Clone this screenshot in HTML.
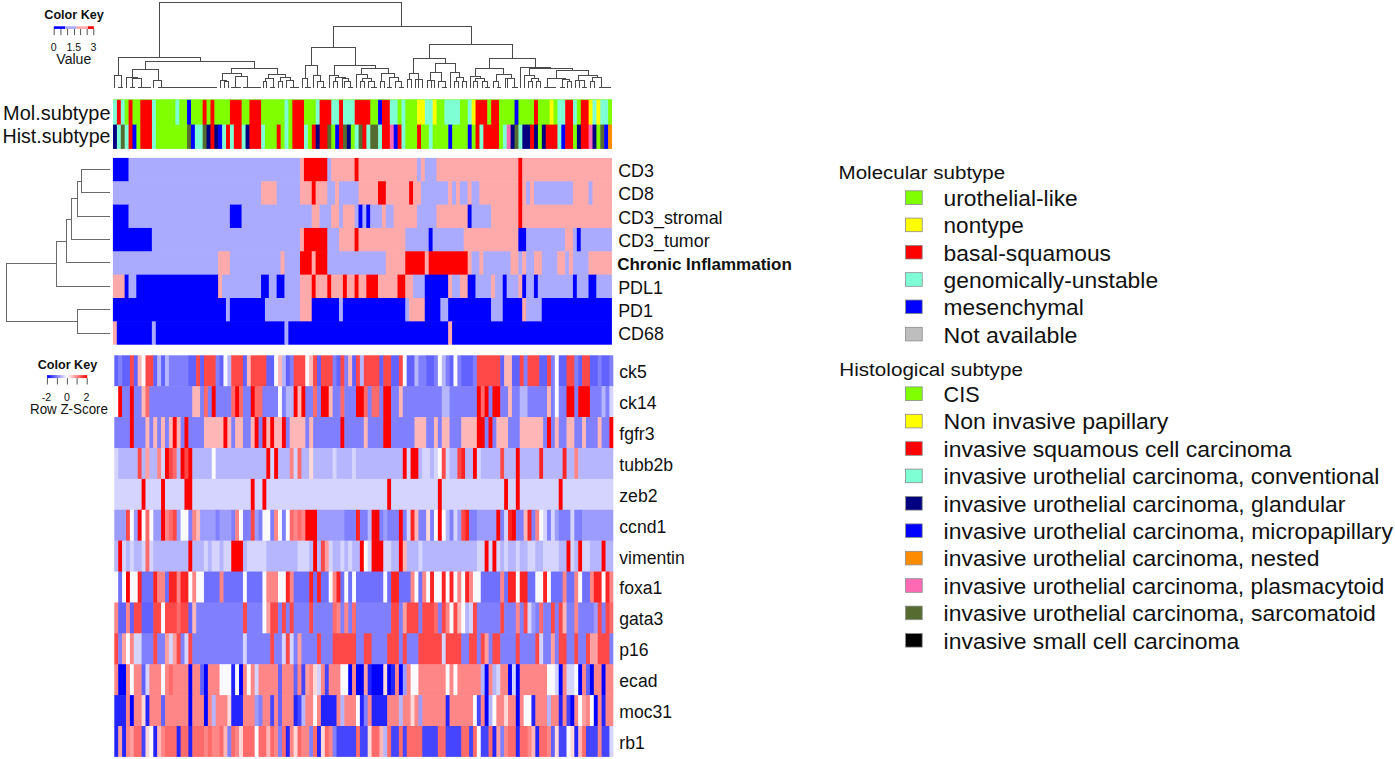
<!DOCTYPE html><html><head><meta charset="utf-8"><title>Heatmap</title><style>html,body{margin:0;padding:0;background:#fff;}body{width:1395px;height:759px;overflow:hidden;font-family:"Liberation Sans",sans-serif;}svg{display:block;}</style></head><body><svg width="1395" height="759" viewBox="0 0 1395 759"><rect width="1395" height="759" fill="#ffffff"/><rect x="113.00" y="99.50" width="4.50" height="25.70" fill="#7fffd4"/><rect x="116.90" y="99.50" width="4.50" height="25.70" fill="#ff0000"/><rect x="120.80" y="99.50" width="4.50" height="25.70" fill="#7fffd4"/><rect x="124.70" y="99.50" width="4.50" height="25.70" fill="#7fff00"/><rect x="128.59" y="99.50" width="4.50" height="25.70" fill="#ff0000"/><rect x="132.49" y="99.50" width="8.40" height="25.70" fill="#7fff00"/><rect x="140.29" y="99.50" width="12.30" height="25.70" fill="#ff0000"/><rect x="151.98" y="99.50" width="4.50" height="25.70" fill="#7fffd4"/><rect x="155.88" y="99.50" width="20.09" height="25.70" fill="#7fff00"/><rect x="175.38" y="99.50" width="4.50" height="25.70" fill="#7fffd4"/><rect x="179.27" y="99.50" width="8.40" height="25.70" fill="#7fff00"/><rect x="187.07" y="99.50" width="4.50" height="25.70" fill="#0000ff"/><rect x="190.97" y="99.50" width="12.30" height="25.70" fill="#7fff00"/><rect x="202.66" y="99.50" width="4.50" height="25.70" fill="#ff0000"/><rect x="206.56" y="99.50" width="4.50" height="25.70" fill="#7fff00"/><rect x="210.46" y="99.50" width="4.50" height="25.70" fill="#ff0000"/><rect x="214.36" y="99.50" width="16.19" height="25.70" fill="#7fff00"/><rect x="229.95" y="99.50" width="12.30" height="25.70" fill="#ff0000"/><rect x="241.65" y="99.50" width="8.40" height="25.70" fill="#7fff00"/><rect x="249.45" y="99.50" width="12.30" height="25.70" fill="#ff0000"/><rect x="261.14" y="99.50" width="23.99" height="25.70" fill="#7fff00"/><rect x="284.53" y="99.50" width="4.50" height="25.70" fill="#7fffd4"/><rect x="288.43" y="99.50" width="4.50" height="25.70" fill="#7fff00"/><rect x="292.33" y="99.50" width="12.30" height="25.70" fill="#ff0000"/><rect x="304.02" y="99.50" width="12.30" height="25.70" fill="#7fff00"/><rect x="315.72" y="99.50" width="4.50" height="25.70" fill="#7fffd4"/><rect x="319.62" y="99.50" width="12.30" height="25.70" fill="#ff0000"/><rect x="331.31" y="99.50" width="8.40" height="25.70" fill="#7fffd4"/><rect x="339.11" y="99.50" width="4.50" height="25.70" fill="#ff0000"/><rect x="343.01" y="99.50" width="12.30" height="25.70" fill="#7fffd4"/><rect x="354.70" y="99.50" width="16.19" height="25.70" fill="#ff0000"/><rect x="370.30" y="99.50" width="8.40" height="25.70" fill="#7fff00"/><rect x="378.09" y="99.50" width="4.50" height="25.70" fill="#0000ff"/><rect x="381.99" y="99.50" width="8.40" height="25.70" fill="#ff0000"/><rect x="389.79" y="99.50" width="8.40" height="25.70" fill="#7fffd4"/><rect x="397.59" y="99.50" width="4.50" height="25.70" fill="#7fff00"/><rect x="401.48" y="99.50" width="4.50" height="25.70" fill="#7fffd4"/><rect x="405.38" y="99.50" width="12.30" height="25.70" fill="#7fff00"/><rect x="417.08" y="99.50" width="8.40" height="25.70" fill="#ffff00"/><rect x="424.88" y="99.50" width="8.40" height="25.70" fill="#7fffd4"/><rect x="432.67" y="99.50" width="4.50" height="25.70" fill="#ffff00"/><rect x="436.57" y="99.50" width="8.40" height="25.70" fill="#7fff00"/><rect x="444.37" y="99.50" width="16.19" height="25.70" fill="#7fffd4"/><rect x="459.96" y="99.50" width="8.40" height="25.70" fill="#7fff00"/><rect x="467.76" y="99.50" width="4.50" height="25.70" fill="#7fffd4"/><rect x="471.66" y="99.50" width="4.50" height="25.70" fill="#ffff00"/><rect x="475.55" y="99.50" width="12.30" height="25.70" fill="#ff0000"/><rect x="487.25" y="99.50" width="4.50" height="25.70" fill="#7fff00"/><rect x="491.15" y="99.50" width="8.40" height="25.70" fill="#ff0000"/><rect x="498.95" y="99.50" width="16.19" height="25.70" fill="#7fff00"/><rect x="514.54" y="99.50" width="4.50" height="25.70" fill="#0000ff"/><rect x="518.44" y="99.50" width="16.19" height="25.70" fill="#7fff00"/><rect x="534.03" y="99.50" width="4.50" height="25.70" fill="#ff0000"/><rect x="537.93" y="99.50" width="12.30" height="25.70" fill="#7fff00"/><rect x="549.62" y="99.50" width="4.50" height="25.70" fill="#ffff00"/><rect x="553.52" y="99.50" width="4.50" height="25.70" fill="#7fff00"/><rect x="557.42" y="99.50" width="8.40" height="25.70" fill="#7fffd4"/><rect x="565.22" y="99.50" width="8.40" height="25.70" fill="#ff0000"/><rect x="573.02" y="99.50" width="4.50" height="25.70" fill="#7fffd4"/><rect x="576.91" y="99.50" width="4.50" height="25.70" fill="#7fff00"/><rect x="580.81" y="99.50" width="8.40" height="25.70" fill="#ff0000"/><rect x="588.61" y="99.50" width="4.50" height="25.70" fill="#ffff00"/><rect x="592.51" y="99.50" width="4.50" height="25.70" fill="#7fffd4"/><rect x="596.41" y="99.50" width="4.50" height="25.70" fill="#ffff00"/><rect x="600.30" y="99.50" width="8.40" height="25.70" fill="#7fffd4"/><rect x="608.10" y="99.50" width="3.90" height="25.70" fill="#7fff00"/><rect x="113.00" y="124.60" width="4.50" height="24.30" fill="#000080"/><rect x="116.90" y="124.60" width="4.50" height="24.30" fill="#7fffd4"/><rect x="120.80" y="124.60" width="4.50" height="24.30" fill="#556b2f"/><rect x="124.70" y="124.60" width="4.50" height="24.30" fill="#7fffd4"/><rect x="128.59" y="124.60" width="4.50" height="24.30" fill="#ff0000"/><rect x="132.49" y="124.60" width="4.50" height="24.30" fill="#0000ff"/><rect x="136.39" y="124.60" width="4.50" height="24.30" fill="#7fff00"/><rect x="140.29" y="124.60" width="12.30" height="24.30" fill="#ff0000"/><rect x="151.98" y="124.60" width="4.50" height="24.30" fill="#7fffd4"/><rect x="155.88" y="124.60" width="31.79" height="24.30" fill="#7fff00"/><rect x="187.07" y="124.60" width="4.50" height="24.30" fill="#556b2f"/><rect x="190.97" y="124.60" width="4.50" height="24.30" fill="#0000ff"/><rect x="194.87" y="124.60" width="8.40" height="24.30" fill="#7fffd4"/><rect x="202.66" y="124.60" width="4.50" height="24.30" fill="#556b2f"/><rect x="206.56" y="124.60" width="4.50" height="24.30" fill="#000080"/><rect x="210.46" y="124.60" width="4.50" height="24.30" fill="#ff0000"/><rect x="214.36" y="124.60" width="4.50" height="24.30" fill="#000080"/><rect x="218.26" y="124.60" width="4.50" height="24.30" fill="#0000ff"/><rect x="222.16" y="124.60" width="4.50" height="24.30" fill="#7fffd4"/><rect x="226.05" y="124.60" width="4.50" height="24.30" fill="#ff0000"/><rect x="229.95" y="124.60" width="4.50" height="24.30" fill="#7fffd4"/><rect x="233.85" y="124.60" width="8.40" height="24.30" fill="#ff0000"/><rect x="241.65" y="124.60" width="4.50" height="24.30" fill="#7fffd4"/><rect x="245.55" y="124.60" width="4.50" height="24.30" fill="#000080"/><rect x="249.45" y="124.60" width="12.30" height="24.30" fill="#ff0000"/><rect x="261.14" y="124.60" width="4.50" height="24.30" fill="#7fffd4"/><rect x="265.04" y="124.60" width="12.30" height="24.30" fill="#7fff00"/><rect x="276.73" y="124.60" width="4.50" height="24.30" fill="#ff0000"/><rect x="280.63" y="124.60" width="4.50" height="24.30" fill="#7fff00"/><rect x="284.53" y="124.60" width="4.50" height="24.30" fill="#7fffd4"/><rect x="288.43" y="124.60" width="4.50" height="24.30" fill="#7fff00"/><rect x="292.33" y="124.60" width="12.30" height="24.30" fill="#ff0000"/><rect x="304.02" y="124.60" width="4.50" height="24.30" fill="#7fffd4"/><rect x="307.92" y="124.60" width="4.50" height="24.30" fill="#7fff00"/><rect x="311.82" y="124.60" width="4.50" height="24.30" fill="#ff0000"/><rect x="315.72" y="124.60" width="4.50" height="24.30" fill="#000080"/><rect x="319.62" y="124.60" width="8.40" height="24.30" fill="#ff0000"/><rect x="327.41" y="124.60" width="4.50" height="24.30" fill="#556b2f"/><rect x="331.31" y="124.60" width="4.50" height="24.30" fill="#7fff00"/><rect x="335.21" y="124.60" width="4.50" height="24.30" fill="#0000ff"/><rect x="339.11" y="124.60" width="4.50" height="24.30" fill="#ff0000"/><rect x="343.01" y="124.60" width="4.50" height="24.30" fill="#556b2f"/><rect x="346.91" y="124.60" width="4.50" height="24.30" fill="#000080"/><rect x="350.80" y="124.60" width="4.50" height="24.30" fill="#7fff00"/><rect x="354.70" y="124.60" width="4.50" height="24.30" fill="#7fffd4"/><rect x="358.60" y="124.60" width="4.50" height="24.30" fill="#556b2f"/><rect x="362.50" y="124.60" width="4.50" height="24.30" fill="#ff0000"/><rect x="366.40" y="124.60" width="4.50" height="24.30" fill="#7fffd4"/><rect x="370.30" y="124.60" width="8.40" height="24.30" fill="#556b2f"/><rect x="378.09" y="124.60" width="4.50" height="24.30" fill="#7fffd4"/><rect x="381.99" y="124.60" width="8.40" height="24.30" fill="#ff0000"/><rect x="389.79" y="124.60" width="4.50" height="24.30" fill="#ff69b4"/><rect x="393.69" y="124.60" width="4.50" height="24.30" fill="#0000ff"/><rect x="397.59" y="124.60" width="4.50" height="24.30" fill="#ff0000"/><rect x="401.48" y="124.60" width="4.50" height="24.30" fill="#7fffd4"/><rect x="405.38" y="124.60" width="12.30" height="24.30" fill="#7fff00"/><rect x="417.08" y="124.60" width="4.50" height="24.30" fill="#ff0000"/><rect x="420.98" y="124.60" width="8.40" height="24.30" fill="#7fff00"/><rect x="428.77" y="124.60" width="4.50" height="24.30" fill="#7fffd4"/><rect x="432.67" y="124.60" width="16.19" height="24.30" fill="#7fff00"/><rect x="448.27" y="124.60" width="4.50" height="24.30" fill="#0000ff"/><rect x="452.16" y="124.60" width="16.19" height="24.30" fill="#7fff00"/><rect x="467.76" y="124.60" width="4.50" height="24.30" fill="#0000ff"/><rect x="471.66" y="124.60" width="4.50" height="24.30" fill="#7fff00"/><rect x="475.55" y="124.60" width="4.50" height="24.30" fill="#ff0000"/><rect x="479.45" y="124.60" width="4.50" height="24.30" fill="#7fffd4"/><rect x="483.35" y="124.60" width="16.19" height="24.30" fill="#ff0000"/><rect x="498.95" y="124.60" width="4.50" height="24.30" fill="#7fff00"/><rect x="502.84" y="124.60" width="4.50" height="24.30" fill="#7fffd4"/><rect x="506.74" y="124.60" width="4.50" height="24.30" fill="#ff69b4"/><rect x="510.64" y="124.60" width="4.50" height="24.30" fill="#000080"/><rect x="514.54" y="124.60" width="4.50" height="24.30" fill="#556b2f"/><rect x="518.44" y="124.60" width="4.50" height="24.30" fill="#7fffd4"/><rect x="522.34" y="124.60" width="8.40" height="24.30" fill="#000080"/><rect x="530.13" y="124.60" width="4.50" height="24.30" fill="#ff0000"/><rect x="534.03" y="124.60" width="4.50" height="24.30" fill="#000080"/><rect x="537.93" y="124.60" width="4.50" height="24.30" fill="#7fff00"/><rect x="541.83" y="124.60" width="4.50" height="24.30" fill="#000080"/><rect x="545.73" y="124.60" width="12.30" height="24.30" fill="#ff0000"/><rect x="557.42" y="124.60" width="4.50" height="24.30" fill="#7fffd4"/><rect x="561.32" y="124.60" width="4.50" height="24.30" fill="#0000ff"/><rect x="565.22" y="124.60" width="8.40" height="24.30" fill="#ff0000"/><rect x="573.02" y="124.60" width="4.50" height="24.30" fill="#7fff00"/><rect x="576.91" y="124.60" width="4.50" height="24.30" fill="#000080"/><rect x="580.81" y="124.60" width="8.40" height="24.30" fill="#ff0000"/><rect x="588.61" y="124.60" width="4.50" height="24.30" fill="#ff69b4"/><rect x="592.51" y="124.60" width="4.50" height="24.30" fill="#000080"/><rect x="596.41" y="124.60" width="4.50" height="24.30" fill="#7fff00"/><rect x="600.30" y="124.60" width="4.50" height="24.30" fill="#556b2f"/><rect x="604.20" y="124.60" width="4.50" height="24.30" fill="#0000ff"/><rect x="608.10" y="124.60" width="3.90" height="24.30" fill="#ff8c00"/><rect x="113.0" y="99.2" width="499.0" height="0.9" fill="#80ff40" opacity="0.8"/><rect x="112.90" y="157.90" width="16.19" height="23.95" fill="#0000ff"/><rect x="128.49" y="157.90" width="172.13" height="23.95" fill="#aaaaff"/><rect x="300.02" y="157.90" width="4.50" height="23.95" fill="#ffaaaa"/><rect x="303.92" y="157.90" width="23.99" height="23.95" fill="#ff0000"/><rect x="327.31" y="157.90" width="4.50" height="23.95" fill="#aaaaff"/><rect x="331.21" y="157.90" width="23.99" height="23.95" fill="#ffaaaa"/><rect x="354.60" y="157.90" width="4.50" height="23.95" fill="#ff0000"/><rect x="358.50" y="157.90" width="59.08" height="23.95" fill="#ffaaaa"/><rect x="416.98" y="157.90" width="4.50" height="23.95" fill="#aaaaff"/><rect x="420.88" y="157.90" width="4.50" height="23.95" fill="#ffaaaa"/><rect x="424.77" y="157.90" width="12.30" height="23.95" fill="#aaaaff"/><rect x="436.47" y="157.90" width="82.47" height="23.95" fill="#ffaaaa"/><rect x="518.34" y="157.90" width="4.50" height="23.95" fill="#ff0000"/><rect x="522.24" y="157.90" width="89.66" height="23.95" fill="#ffaaaa"/><rect x="112.90" y="181.25" width="148.74" height="23.95" fill="#aaaaff"/><rect x="261.04" y="181.25" width="16.19" height="23.95" fill="#ffaaaa"/><rect x="276.63" y="181.25" width="23.99" height="23.95" fill="#aaaaff"/><rect x="300.02" y="181.25" width="12.30" height="23.95" fill="#ffaaaa"/><rect x="311.72" y="181.25" width="4.50" height="23.95" fill="#ff0000"/><rect x="315.62" y="181.25" width="12.30" height="23.95" fill="#ffaaaa"/><rect x="327.31" y="181.25" width="8.40" height="23.95" fill="#aaaaff"/><rect x="335.11" y="181.25" width="4.50" height="23.95" fill="#ffaaaa"/><rect x="339.01" y="181.25" width="20.09" height="23.95" fill="#aaaaff"/><rect x="358.50" y="181.25" width="20.09" height="23.95" fill="#ffaaaa"/><rect x="377.99" y="181.25" width="8.40" height="23.95" fill="#ff0000"/><rect x="385.79" y="181.25" width="23.99" height="23.95" fill="#ffaaaa"/><rect x="409.18" y="181.25" width="4.50" height="23.95" fill="#ff0000"/><rect x="413.08" y="181.25" width="8.40" height="23.95" fill="#ffaaaa"/><rect x="420.88" y="181.25" width="27.89" height="23.95" fill="#aaaaff"/><rect x="448.17" y="181.25" width="4.50" height="23.95" fill="#ffaaaa"/><rect x="452.06" y="181.25" width="4.50" height="23.95" fill="#aaaaff"/><rect x="455.96" y="181.25" width="4.50" height="23.95" fill="#ffaaaa"/><rect x="459.86" y="181.25" width="8.40" height="23.95" fill="#aaaaff"/><rect x="467.66" y="181.25" width="4.50" height="23.95" fill="#ffaaaa"/><rect x="471.56" y="181.25" width="8.40" height="23.95" fill="#aaaaff"/><rect x="479.35" y="181.25" width="39.58" height="23.95" fill="#ffaaaa"/><rect x="518.34" y="181.25" width="4.50" height="23.95" fill="#ff0000"/><rect x="522.24" y="181.25" width="4.50" height="23.95" fill="#ffaaaa"/><rect x="526.13" y="181.25" width="4.50" height="23.95" fill="#aaaaff"/><rect x="530.03" y="181.25" width="4.50" height="23.95" fill="#ffaaaa"/><rect x="533.93" y="181.25" width="39.58" height="23.95" fill="#aaaaff"/><rect x="572.92" y="181.25" width="16.19" height="23.95" fill="#ffaaaa"/><rect x="588.51" y="181.25" width="4.50" height="23.95" fill="#aaaaff"/><rect x="592.41" y="181.25" width="19.49" height="23.95" fill="#ffaaaa"/><rect x="112.90" y="204.60" width="16.19" height="23.95" fill="#0000ff"/><rect x="128.49" y="204.60" width="101.96" height="23.95" fill="#aaaaff"/><rect x="229.85" y="204.60" width="12.30" height="23.95" fill="#0000ff"/><rect x="241.55" y="204.60" width="70.77" height="23.95" fill="#aaaaff"/><rect x="311.72" y="204.60" width="8.40" height="23.95" fill="#ffaaaa"/><rect x="319.52" y="204.60" width="12.30" height="23.95" fill="#aaaaff"/><rect x="331.21" y="204.60" width="8.40" height="23.95" fill="#ffaaaa"/><rect x="339.01" y="204.60" width="4.50" height="23.95" fill="#aaaaff"/><rect x="342.91" y="204.60" width="12.30" height="23.95" fill="#ffaaaa"/><rect x="354.60" y="204.60" width="4.50" height="23.95" fill="#aaaaff"/><rect x="358.50" y="204.60" width="4.50" height="23.95" fill="#0000ff"/><rect x="362.40" y="204.60" width="4.50" height="23.95" fill="#aaaaff"/><rect x="366.30" y="204.60" width="4.50" height="23.95" fill="#0000ff"/><rect x="370.20" y="204.60" width="12.30" height="23.95" fill="#aaaaff"/><rect x="381.89" y="204.60" width="4.50" height="23.95" fill="#ffaaaa"/><rect x="385.79" y="204.60" width="8.40" height="23.95" fill="#aaaaff"/><rect x="393.59" y="204.60" width="23.99" height="23.95" fill="#ffaaaa"/><rect x="416.98" y="204.60" width="20.09" height="23.95" fill="#aaaaff"/><rect x="436.47" y="204.60" width="31.79" height="23.95" fill="#ffaaaa"/><rect x="467.66" y="204.60" width="4.50" height="23.95" fill="#0000ff"/><rect x="471.56" y="204.60" width="20.09" height="23.95" fill="#aaaaff"/><rect x="491.05" y="204.60" width="27.89" height="23.95" fill="#ffaaaa"/><rect x="518.34" y="204.60" width="4.50" height="23.95" fill="#ff0000"/><rect x="522.24" y="204.60" width="89.66" height="23.95" fill="#ffaaaa"/><rect x="112.90" y="227.95" width="39.58" height="23.95" fill="#0000ff"/><rect x="151.88" y="227.95" width="148.74" height="23.95" fill="#aaaaff"/><rect x="300.02" y="227.95" width="4.50" height="23.95" fill="#ffaaaa"/><rect x="303.92" y="227.95" width="23.99" height="23.95" fill="#ff0000"/><rect x="327.31" y="227.95" width="12.30" height="23.95" fill="#aaaaff"/><rect x="339.01" y="227.95" width="16.19" height="23.95" fill="#ffaaaa"/><rect x="354.60" y="227.95" width="4.50" height="23.95" fill="#ff0000"/><rect x="358.50" y="227.95" width="47.38" height="23.95" fill="#ffaaaa"/><rect x="405.28" y="227.95" width="23.99" height="23.95" fill="#aaaaff"/><rect x="428.67" y="227.95" width="4.50" height="23.95" fill="#0000ff"/><rect x="432.57" y="227.95" width="31.79" height="23.95" fill="#aaaaff"/><rect x="463.76" y="227.95" width="55.18" height="23.95" fill="#ffaaaa"/><rect x="518.34" y="227.95" width="8.40" height="23.95" fill="#0000ff"/><rect x="526.13" y="227.95" width="39.58" height="23.95" fill="#aaaaff"/><rect x="565.12" y="227.95" width="8.40" height="23.95" fill="#ffaaaa"/><rect x="572.92" y="227.95" width="4.50" height="23.95" fill="#aaaaff"/><rect x="576.81" y="227.95" width="4.50" height="23.95" fill="#0000ff"/><rect x="580.71" y="227.95" width="31.19" height="23.95" fill="#aaaaff"/><rect x="112.90" y="251.30" width="105.86" height="23.95" fill="#aaaaff"/><rect x="218.16" y="251.30" width="12.30" height="23.95" fill="#ffaaaa"/><rect x="229.85" y="251.30" width="51.28" height="23.95" fill="#aaaaff"/><rect x="280.53" y="251.30" width="4.50" height="23.95" fill="#ffaaaa"/><rect x="284.43" y="251.30" width="16.19" height="23.95" fill="#aaaaff"/><rect x="300.02" y="251.30" width="12.30" height="23.95" fill="#ff0000"/><rect x="311.72" y="251.30" width="4.50" height="23.95" fill="#ffaaaa"/><rect x="315.62" y="251.30" width="12.30" height="23.95" fill="#ff0000"/><rect x="327.31" y="251.30" width="59.08" height="23.95" fill="#aaaaff"/><rect x="385.79" y="251.30" width="20.09" height="23.95" fill="#ffaaaa"/><rect x="405.28" y="251.30" width="20.09" height="23.95" fill="#ff0000"/><rect x="424.77" y="251.30" width="4.50" height="23.95" fill="#ffaaaa"/><rect x="428.67" y="251.30" width="39.58" height="23.95" fill="#ff0000"/><rect x="467.66" y="251.30" width="4.50" height="23.95" fill="#ffaaaa"/><rect x="471.56" y="251.30" width="8.40" height="23.95" fill="#aaaaff"/><rect x="479.35" y="251.30" width="4.50" height="23.95" fill="#ffaaaa"/><rect x="483.25" y="251.30" width="27.89" height="23.95" fill="#aaaaff"/><rect x="510.54" y="251.30" width="8.40" height="23.95" fill="#ffaaaa"/><rect x="518.34" y="251.30" width="4.50" height="23.95" fill="#aaaaff"/><rect x="522.24" y="251.30" width="4.50" height="23.95" fill="#ffaaaa"/><rect x="526.13" y="251.30" width="8.40" height="23.95" fill="#aaaaff"/><rect x="533.93" y="251.30" width="8.40" height="23.95" fill="#ffaaaa"/><rect x="541.73" y="251.30" width="16.19" height="23.95" fill="#aaaaff"/><rect x="557.32" y="251.30" width="8.40" height="23.95" fill="#ffaaaa"/><rect x="565.12" y="251.30" width="4.50" height="23.95" fill="#aaaaff"/><rect x="569.02" y="251.30" width="4.50" height="23.95" fill="#ffaaaa"/><rect x="572.92" y="251.30" width="16.19" height="23.95" fill="#aaaaff"/><rect x="588.51" y="251.30" width="23.39" height="23.95" fill="#ffaaaa"/><rect x="112.90" y="274.65" width="12.30" height="23.95" fill="#ffaaaa"/><rect x="124.60" y="274.65" width="4.50" height="23.95" fill="#0000ff"/><rect x="128.49" y="274.65" width="8.40" height="23.95" fill="#aaaaff"/><rect x="136.29" y="274.65" width="82.47" height="23.95" fill="#0000ff"/><rect x="218.16" y="274.65" width="4.50" height="23.95" fill="#ffaaaa"/><rect x="222.06" y="274.65" width="39.58" height="23.95" fill="#aaaaff"/><rect x="261.04" y="274.65" width="8.40" height="23.95" fill="#0000ff"/><rect x="268.84" y="274.65" width="8.40" height="23.95" fill="#aaaaff"/><rect x="276.63" y="274.65" width="8.40" height="23.95" fill="#0000ff"/><rect x="284.43" y="274.65" width="16.19" height="23.95" fill="#aaaaff"/><rect x="300.02" y="274.65" width="12.30" height="23.95" fill="#ffaaaa"/><rect x="311.72" y="274.65" width="4.50" height="23.95" fill="#ff0000"/><rect x="315.62" y="274.65" width="12.30" height="23.95" fill="#ffaaaa"/><rect x="327.31" y="274.65" width="4.50" height="23.95" fill="#ff0000"/><rect x="331.21" y="274.65" width="12.30" height="23.95" fill="#ffaaaa"/><rect x="342.91" y="274.65" width="4.50" height="23.95" fill="#ff0000"/><rect x="346.81" y="274.65" width="8.40" height="23.95" fill="#ffaaaa"/><rect x="354.60" y="274.65" width="4.50" height="23.95" fill="#ff0000"/><rect x="358.50" y="274.65" width="8.40" height="23.95" fill="#ffaaaa"/><rect x="366.30" y="274.65" width="12.30" height="23.95" fill="#ff0000"/><rect x="377.99" y="274.65" width="20.09" height="23.95" fill="#ffaaaa"/><rect x="397.49" y="274.65" width="8.40" height="23.95" fill="#ff0000"/><rect x="405.28" y="274.65" width="8.40" height="23.95" fill="#ffaaaa"/><rect x="413.08" y="274.65" width="12.30" height="23.95" fill="#aaaaff"/><rect x="424.77" y="274.65" width="23.99" height="23.95" fill="#0000ff"/><rect x="448.17" y="274.65" width="4.50" height="23.95" fill="#ffaaaa"/><rect x="452.06" y="274.65" width="8.40" height="23.95" fill="#aaaaff"/><rect x="459.86" y="274.65" width="8.40" height="23.95" fill="#ffaaaa"/><rect x="467.66" y="274.65" width="8.40" height="23.95" fill="#0000ff"/><rect x="475.45" y="274.65" width="16.19" height="23.95" fill="#aaaaff"/><rect x="491.05" y="274.65" width="4.50" height="23.95" fill="#ffaaaa"/><rect x="494.95" y="274.65" width="8.40" height="23.95" fill="#aaaaff"/><rect x="502.74" y="274.65" width="4.50" height="23.95" fill="#0000ff"/><rect x="506.64" y="274.65" width="12.30" height="23.95" fill="#aaaaff"/><rect x="518.34" y="274.65" width="4.50" height="23.95" fill="#ffaaaa"/><rect x="522.24" y="274.65" width="4.50" height="23.95" fill="#0000ff"/><rect x="526.13" y="274.65" width="8.40" height="23.95" fill="#aaaaff"/><rect x="533.93" y="274.65" width="4.50" height="23.95" fill="#0000ff"/><rect x="537.83" y="274.65" width="35.69" height="23.95" fill="#aaaaff"/><rect x="572.92" y="274.65" width="4.50" height="23.95" fill="#0000ff"/><rect x="576.81" y="274.65" width="12.30" height="23.95" fill="#aaaaff"/><rect x="588.51" y="274.65" width="8.40" height="23.95" fill="#0000ff"/><rect x="596.31" y="274.65" width="15.59" height="23.95" fill="#aaaaff"/><rect x="112.90" y="298.00" width="113.65" height="23.95" fill="#0000ff"/><rect x="225.95" y="298.00" width="4.50" height="23.95" fill="#aaaaff"/><rect x="229.85" y="298.00" width="35.69" height="23.95" fill="#0000ff"/><rect x="264.94" y="298.00" width="35.69" height="23.95" fill="#aaaaff"/><rect x="300.02" y="298.00" width="12.30" height="23.95" fill="#ffaaaa"/><rect x="311.72" y="298.00" width="27.89" height="23.95" fill="#0000ff"/><rect x="339.01" y="298.00" width="4.50" height="23.95" fill="#aaaaff"/><rect x="342.91" y="298.00" width="62.98" height="23.95" fill="#0000ff"/><rect x="405.28" y="298.00" width="4.50" height="23.95" fill="#aaaaff"/><rect x="409.18" y="298.00" width="16.19" height="23.95" fill="#ffaaaa"/><rect x="424.77" y="298.00" width="16.19" height="23.95" fill="#0000ff"/><rect x="440.37" y="298.00" width="8.40" height="23.95" fill="#aaaaff"/><rect x="448.17" y="298.00" width="43.48" height="23.95" fill="#0000ff"/><rect x="491.05" y="298.00" width="12.30" height="23.95" fill="#aaaaff"/><rect x="502.74" y="298.00" width="20.09" height="23.95" fill="#0000ff"/><rect x="522.24" y="298.00" width="4.50" height="23.95" fill="#ffaaaa"/><rect x="526.13" y="298.00" width="16.19" height="23.95" fill="#aaaaff"/><rect x="541.73" y="298.00" width="70.17" height="23.95" fill="#0000ff"/><rect x="112.90" y="321.35" width="4.50" height="23.35" fill="#ffaaaa"/><rect x="116.80" y="321.35" width="35.69" height="23.35" fill="#0000ff"/><rect x="151.88" y="321.35" width="4.50" height="23.35" fill="#aaaaff"/><rect x="155.78" y="321.35" width="129.25" height="23.35" fill="#0000ff"/><rect x="284.43" y="321.35" width="4.50" height="23.35" fill="#aaaaff"/><rect x="288.33" y="321.35" width="160.44" height="23.35" fill="#0000ff"/><rect x="448.17" y="321.35" width="4.50" height="23.35" fill="#ffaaaa"/><rect x="452.06" y="321.35" width="159.84" height="23.35" fill="#0000ff"/><rect x="114.30" y="355.30" width="4.50" height="31.49" fill="#6262ff"/><rect x="118.20" y="355.30" width="4.50" height="31.49" fill="#8080ff"/><rect x="122.10" y="355.30" width="8.40" height="31.49" fill="#6262ff"/><rect x="129.89" y="355.30" width="4.50" height="31.49" fill="#ff4848"/><rect x="133.79" y="355.30" width="4.50" height="31.49" fill="#6262ff"/><rect x="137.69" y="355.30" width="4.50" height="31.49" fill="#ffb6b6"/><rect x="141.59" y="355.30" width="4.50" height="31.49" fill="#fbfbff"/><rect x="145.49" y="355.30" width="8.40" height="31.49" fill="#ff4848"/><rect x="153.28" y="355.30" width="4.50" height="31.49" fill="#6262ff"/><rect x="157.18" y="355.30" width="4.50" height="31.49" fill="#b6b6ff"/><rect x="161.08" y="355.30" width="4.50" height="31.49" fill="#6262ff"/><rect x="164.98" y="355.30" width="4.50" height="31.49" fill="#b6b6ff"/><rect x="168.88" y="355.30" width="20.09" height="31.49" fill="#8080ff"/><rect x="188.37" y="355.30" width="8.40" height="31.49" fill="#6262ff"/><rect x="196.17" y="355.30" width="4.50" height="31.49" fill="#ff4848"/><rect x="200.07" y="355.30" width="4.50" height="31.49" fill="#6262ff"/><rect x="203.96" y="355.30" width="12.30" height="31.49" fill="#ff4848"/><rect x="215.66" y="355.30" width="4.50" height="31.49" fill="#8080ff"/><rect x="219.56" y="355.30" width="4.50" height="31.49" fill="#6262ff"/><rect x="223.46" y="355.30" width="4.50" height="31.49" fill="#fbfbff"/><rect x="227.35" y="355.30" width="4.50" height="31.49" fill="#b6b6ff"/><rect x="231.25" y="355.30" width="12.30" height="31.49" fill="#ff4848"/><rect x="242.95" y="355.30" width="4.50" height="31.49" fill="#6262ff"/><rect x="246.85" y="355.30" width="4.50" height="31.49" fill="#ffb6b6"/><rect x="250.75" y="355.30" width="16.19" height="31.49" fill="#ff4848"/><rect x="266.34" y="355.30" width="8.40" height="31.49" fill="#6262ff"/><rect x="274.14" y="355.30" width="4.50" height="31.49" fill="#fbfbff"/><rect x="278.03" y="355.30" width="4.50" height="31.49" fill="#ffb6b6"/><rect x="281.93" y="355.30" width="4.50" height="31.49" fill="#b6b6ff"/><rect x="285.83" y="355.30" width="4.50" height="31.49" fill="#6262ff"/><rect x="289.73" y="355.30" width="4.50" height="31.49" fill="#8080ff"/><rect x="293.63" y="355.30" width="12.30" height="31.49" fill="#ff4848"/><rect x="305.32" y="355.30" width="4.50" height="31.49" fill="#fbfbff"/><rect x="309.22" y="355.30" width="4.50" height="31.49" fill="#ffb6b6"/><rect x="313.12" y="355.30" width="4.50" height="31.49" fill="#ff4848"/><rect x="317.02" y="355.30" width="4.50" height="31.49" fill="#6262ff"/><rect x="320.92" y="355.30" width="12.30" height="31.49" fill="#ff4848"/><rect x="332.61" y="355.30" width="4.50" height="31.49" fill="#8080ff"/><rect x="336.51" y="355.30" width="4.50" height="31.49" fill="#6262ff"/><rect x="340.41" y="355.30" width="4.50" height="31.49" fill="#ff4848"/><rect x="344.31" y="355.30" width="4.50" height="31.49" fill="#8080ff"/><rect x="348.21" y="355.30" width="4.50" height="31.49" fill="#ffb6b6"/><rect x="352.10" y="355.30" width="4.50" height="31.49" fill="#6262ff"/><rect x="356.00" y="355.30" width="4.50" height="31.49" fill="#ff4848"/><rect x="359.90" y="355.30" width="4.50" height="31.49" fill="#b6b6ff"/><rect x="363.80" y="355.30" width="16.19" height="31.49" fill="#ff4848"/><rect x="379.39" y="355.30" width="4.50" height="31.49" fill="#6262ff"/><rect x="383.29" y="355.30" width="8.40" height="31.49" fill="#ff4848"/><rect x="391.09" y="355.30" width="8.40" height="31.49" fill="#6262ff"/><rect x="398.89" y="355.30" width="4.50" height="31.49" fill="#ff4848"/><rect x="402.78" y="355.30" width="4.50" height="31.49" fill="#fbfbff"/><rect x="406.68" y="355.30" width="8.40" height="31.49" fill="#6262ff"/><rect x="414.48" y="355.30" width="4.50" height="31.49" fill="#b6b6ff"/><rect x="418.38" y="355.30" width="8.40" height="31.49" fill="#8080ff"/><rect x="426.18" y="355.30" width="8.40" height="31.49" fill="#6262ff"/><rect x="433.97" y="355.30" width="4.50" height="31.49" fill="#8080ff"/><rect x="437.87" y="355.30" width="4.50" height="31.49" fill="#fbfbff"/><rect x="441.77" y="355.30" width="4.50" height="31.49" fill="#b6b6ff"/><rect x="445.67" y="355.30" width="4.50" height="31.49" fill="#8080ff"/><rect x="449.57" y="355.30" width="4.50" height="31.49" fill="#6262ff"/><rect x="453.46" y="355.30" width="4.50" height="31.49" fill="#fbfbff"/><rect x="457.36" y="355.30" width="4.50" height="31.49" fill="#8080ff"/><rect x="461.26" y="355.30" width="12.30" height="31.49" fill="#6262ff"/><rect x="472.96" y="355.30" width="4.50" height="31.49" fill="#8080ff"/><rect x="476.85" y="355.30" width="23.99" height="31.49" fill="#ff4848"/><rect x="500.25" y="355.30" width="4.50" height="31.49" fill="#6262ff"/><rect x="504.14" y="355.30" width="8.40" height="31.49" fill="#ffb6b6"/><rect x="511.94" y="355.30" width="8.40" height="31.49" fill="#6262ff"/><rect x="519.74" y="355.30" width="4.50" height="31.49" fill="#ff4848"/><rect x="523.64" y="355.30" width="4.50" height="31.49" fill="#8080ff"/><rect x="527.53" y="355.30" width="12.30" height="31.49" fill="#ff4848"/><rect x="539.23" y="355.30" width="8.40" height="31.49" fill="#6262ff"/><rect x="547.03" y="355.30" width="4.50" height="31.49" fill="#ff4848"/><rect x="550.92" y="355.30" width="4.50" height="31.49" fill="#8080ff"/><rect x="554.82" y="355.30" width="4.50" height="31.49" fill="#fbfbff"/><rect x="558.72" y="355.30" width="8.40" height="31.49" fill="#6262ff"/><rect x="566.52" y="355.30" width="8.40" height="31.49" fill="#ff4848"/><rect x="574.32" y="355.30" width="4.50" height="31.49" fill="#8080ff"/><rect x="578.21" y="355.30" width="4.50" height="31.49" fill="#6262ff"/><rect x="582.11" y="355.30" width="8.40" height="31.49" fill="#ff4848"/><rect x="589.91" y="355.30" width="8.40" height="31.49" fill="#6262ff"/><rect x="597.71" y="355.30" width="4.50" height="31.49" fill="#8080ff"/><rect x="601.60" y="355.30" width="8.40" height="31.49" fill="#6262ff"/><rect x="609.40" y="355.30" width="3.90" height="31.49" fill="#8080ff"/><rect x="114.30" y="386.19" width="4.50" height="31.49" fill="#fbfbff"/><rect x="118.20" y="386.19" width="4.50" height="31.49" fill="#ff0000"/><rect x="122.10" y="386.19" width="8.40" height="31.49" fill="#8080ff"/><rect x="129.89" y="386.19" width="4.50" height="31.49" fill="#ff0000"/><rect x="133.79" y="386.19" width="8.40" height="31.49" fill="#8080ff"/><rect x="141.59" y="386.19" width="4.50" height="31.49" fill="#ffb6b6"/><rect x="145.49" y="386.19" width="4.50" height="31.49" fill="#ff6a6a"/><rect x="149.39" y="386.19" width="43.48" height="31.49" fill="#8080ff"/><rect x="192.27" y="386.19" width="8.40" height="31.49" fill="#ffb6b6"/><rect x="200.07" y="386.19" width="4.50" height="31.49" fill="#8080ff"/><rect x="203.96" y="386.19" width="4.50" height="31.49" fill="#ff6a6a"/><rect x="207.86" y="386.19" width="4.50" height="31.49" fill="#8080ff"/><rect x="211.76" y="386.19" width="4.50" height="31.49" fill="#ff0000"/><rect x="215.66" y="386.19" width="16.19" height="31.49" fill="#8080ff"/><rect x="231.25" y="386.19" width="4.50" height="31.49" fill="#ff6a6a"/><rect x="235.15" y="386.19" width="4.50" height="31.49" fill="#ff0000"/><rect x="239.05" y="386.19" width="4.50" height="31.49" fill="#ff6a6a"/><rect x="242.95" y="386.19" width="8.40" height="31.49" fill="#8080ff"/><rect x="250.75" y="386.19" width="4.50" height="31.49" fill="#ff0000"/><rect x="254.64" y="386.19" width="8.40" height="31.49" fill="#ff6a6a"/><rect x="262.44" y="386.19" width="16.19" height="31.49" fill="#8080ff"/><rect x="278.03" y="386.19" width="4.50" height="31.49" fill="#fbfbff"/><rect x="281.93" y="386.19" width="4.50" height="31.49" fill="#8080ff"/><rect x="285.83" y="386.19" width="8.40" height="31.49" fill="#b6b6ff"/><rect x="293.63" y="386.19" width="4.50" height="31.49" fill="#ff0000"/><rect x="297.53" y="386.19" width="4.50" height="31.49" fill="#ffb6b6"/><rect x="301.43" y="386.19" width="4.50" height="31.49" fill="#ff0000"/><rect x="305.32" y="386.19" width="8.40" height="31.49" fill="#8080ff"/><rect x="313.12" y="386.19" width="4.50" height="31.49" fill="#ff6a6a"/><rect x="317.02" y="386.19" width="4.50" height="31.49" fill="#8080ff"/><rect x="320.92" y="386.19" width="8.40" height="31.49" fill="#ff0000"/><rect x="328.71" y="386.19" width="4.50" height="31.49" fill="#ffb6b6"/><rect x="332.61" y="386.19" width="8.40" height="31.49" fill="#8080ff"/><rect x="340.41" y="386.19" width="4.50" height="31.49" fill="#ff6a6a"/><rect x="344.31" y="386.19" width="12.30" height="31.49" fill="#8080ff"/><rect x="356.00" y="386.19" width="8.40" height="31.49" fill="#ff0000"/><rect x="363.80" y="386.19" width="4.50" height="31.49" fill="#ff6a6a"/><rect x="367.70" y="386.19" width="4.50" height="31.49" fill="#8080ff"/><rect x="371.60" y="386.19" width="8.40" height="31.49" fill="#ff6a6a"/><rect x="379.39" y="386.19" width="4.50" height="31.49" fill="#8080ff"/><rect x="383.29" y="386.19" width="8.40" height="31.49" fill="#ff0000"/><rect x="391.09" y="386.19" width="8.40" height="31.49" fill="#8080ff"/><rect x="398.89" y="386.19" width="4.50" height="31.49" fill="#ffb6b6"/><rect x="402.78" y="386.19" width="39.58" height="31.49" fill="#8080ff"/><rect x="441.77" y="386.19" width="8.40" height="31.49" fill="#b6b6ff"/><rect x="449.57" y="386.19" width="27.89" height="31.49" fill="#8080ff"/><rect x="476.85" y="386.19" width="4.50" height="31.49" fill="#ff0000"/><rect x="480.75" y="386.19" width="4.50" height="31.49" fill="#ff6a6a"/><rect x="484.65" y="386.19" width="4.50" height="31.49" fill="#ff0000"/><rect x="488.55" y="386.19" width="4.50" height="31.49" fill="#8080ff"/><rect x="492.45" y="386.19" width="8.40" height="31.49" fill="#ff0000"/><rect x="500.25" y="386.19" width="8.40" height="31.49" fill="#8080ff"/><rect x="508.04" y="386.19" width="4.50" height="31.49" fill="#ffb6b6"/><rect x="511.94" y="386.19" width="8.40" height="31.49" fill="#8080ff"/><rect x="519.74" y="386.19" width="8.40" height="31.49" fill="#b6b6ff"/><rect x="527.53" y="386.19" width="20.09" height="31.49" fill="#8080ff"/><rect x="547.03" y="386.19" width="4.50" height="31.49" fill="#ffb6b6"/><rect x="550.92" y="386.19" width="4.50" height="31.49" fill="#8080ff"/><rect x="554.82" y="386.19" width="4.50" height="31.49" fill="#fbfbff"/><rect x="558.72" y="386.19" width="8.40" height="31.49" fill="#8080ff"/><rect x="566.52" y="386.19" width="8.40" height="31.49" fill="#ff0000"/><rect x="574.32" y="386.19" width="4.50" height="31.49" fill="#8080ff"/><rect x="578.21" y="386.19" width="12.30" height="31.49" fill="#ff0000"/><rect x="589.91" y="386.19" width="12.30" height="31.49" fill="#8080ff"/><rect x="601.60" y="386.19" width="4.50" height="31.49" fill="#b6b6ff"/><rect x="605.50" y="386.19" width="4.50" height="31.49" fill="#8080ff"/><rect x="609.40" y="386.19" width="3.90" height="31.49" fill="#d4d4ff"/><rect x="114.30" y="417.08" width="16.19" height="31.49" fill="#8080ff"/><rect x="129.89" y="417.08" width="4.50" height="31.49" fill="#ff0000"/><rect x="133.79" y="417.08" width="12.30" height="31.49" fill="#8080ff"/><rect x="145.49" y="417.08" width="4.50" height="31.49" fill="#ffb6b6"/><rect x="149.39" y="417.08" width="4.50" height="31.49" fill="#8080ff"/><rect x="153.28" y="417.08" width="4.50" height="31.49" fill="#ffb6b6"/><rect x="157.18" y="417.08" width="4.50" height="31.49" fill="#8080ff"/><rect x="161.08" y="417.08" width="4.50" height="31.49" fill="#ffb6b6"/><rect x="164.98" y="417.08" width="4.50" height="31.49" fill="#8080ff"/><rect x="168.88" y="417.08" width="4.50" height="31.49" fill="#ffb6b6"/><rect x="172.78" y="417.08" width="4.50" height="31.49" fill="#ff0000"/><rect x="176.68" y="417.08" width="4.50" height="31.49" fill="#ffb6b6"/><rect x="180.57" y="417.08" width="4.50" height="31.49" fill="#8080ff"/><rect x="184.47" y="417.08" width="4.50" height="31.49" fill="#ff0000"/><rect x="188.37" y="417.08" width="16.19" height="31.49" fill="#8080ff"/><rect x="203.96" y="417.08" width="20.09" height="31.49" fill="#ffb6b6"/><rect x="223.46" y="417.08" width="4.50" height="31.49" fill="#ff0000"/><rect x="227.35" y="417.08" width="4.50" height="31.49" fill="#ffb6b6"/><rect x="231.25" y="417.08" width="4.50" height="31.49" fill="#8080ff"/><rect x="235.15" y="417.08" width="8.40" height="31.49" fill="#ffb6b6"/><rect x="242.95" y="417.08" width="8.40" height="31.49" fill="#8080ff"/><rect x="250.75" y="417.08" width="4.50" height="31.49" fill="#ffb6b6"/><rect x="254.64" y="417.08" width="4.50" height="31.49" fill="#ff0000"/><rect x="258.54" y="417.08" width="4.50" height="31.49" fill="#8080ff"/><rect x="262.44" y="417.08" width="4.50" height="31.49" fill="#ff0000"/><rect x="266.34" y="417.08" width="4.50" height="31.49" fill="#ffb6b6"/><rect x="270.24" y="417.08" width="4.50" height="31.49" fill="#ff0000"/><rect x="274.14" y="417.08" width="8.40" height="31.49" fill="#ffb6b6"/><rect x="281.93" y="417.08" width="4.50" height="31.49" fill="#ff0000"/><rect x="285.83" y="417.08" width="4.50" height="31.49" fill="#8080ff"/><rect x="289.73" y="417.08" width="16.19" height="31.49" fill="#ffb6b6"/><rect x="305.32" y="417.08" width="4.50" height="31.49" fill="#8080ff"/><rect x="309.22" y="417.08" width="4.50" height="31.49" fill="#ffb6b6"/><rect x="313.12" y="417.08" width="27.89" height="31.49" fill="#8080ff"/><rect x="340.41" y="417.08" width="4.50" height="31.49" fill="#ff0000"/><rect x="344.31" y="417.08" width="20.09" height="31.49" fill="#8080ff"/><rect x="363.80" y="417.08" width="4.50" height="31.49" fill="#ffb6b6"/><rect x="367.70" y="417.08" width="16.19" height="31.49" fill="#8080ff"/><rect x="383.29" y="417.08" width="8.40" height="31.49" fill="#ff0000"/><rect x="391.09" y="417.08" width="23.99" height="31.49" fill="#8080ff"/><rect x="414.48" y="417.08" width="12.30" height="31.49" fill="#ffb6b6"/><rect x="426.18" y="417.08" width="8.40" height="31.49" fill="#8080ff"/><rect x="433.97" y="417.08" width="4.50" height="31.49" fill="#ffb6b6"/><rect x="437.87" y="417.08" width="4.50" height="31.49" fill="#8080ff"/><rect x="441.77" y="417.08" width="8.40" height="31.49" fill="#ffb6b6"/><rect x="449.57" y="417.08" width="12.30" height="31.49" fill="#8080ff"/><rect x="461.26" y="417.08" width="16.19" height="31.49" fill="#ffb6b6"/><rect x="476.85" y="417.08" width="8.40" height="31.49" fill="#ff0000"/><rect x="484.65" y="417.08" width="4.50" height="31.49" fill="#8080ff"/><rect x="488.55" y="417.08" width="4.50" height="31.49" fill="#ff0000"/><rect x="492.45" y="417.08" width="4.50" height="31.49" fill="#8080ff"/><rect x="496.35" y="417.08" width="12.30" height="31.49" fill="#ffb6b6"/><rect x="508.04" y="417.08" width="12.30" height="31.49" fill="#8080ff"/><rect x="519.74" y="417.08" width="23.99" height="31.49" fill="#ffb6b6"/><rect x="543.13" y="417.08" width="4.50" height="31.49" fill="#8080ff"/><rect x="547.03" y="417.08" width="4.50" height="31.49" fill="#ff0000"/><rect x="550.92" y="417.08" width="4.50" height="31.49" fill="#8080ff"/><rect x="554.82" y="417.08" width="4.50" height="31.49" fill="#ffb6b6"/><rect x="558.72" y="417.08" width="8.40" height="31.49" fill="#8080ff"/><rect x="566.52" y="417.08" width="8.40" height="31.49" fill="#ffb6b6"/><rect x="574.32" y="417.08" width="8.40" height="31.49" fill="#8080ff"/><rect x="582.11" y="417.08" width="4.50" height="31.49" fill="#ffb6b6"/><rect x="586.01" y="417.08" width="12.30" height="31.49" fill="#8080ff"/><rect x="597.71" y="417.08" width="4.50" height="31.49" fill="#ffb6b6"/><rect x="601.60" y="417.08" width="8.40" height="31.49" fill="#8080ff"/><rect x="609.40" y="417.08" width="3.90" height="31.49" fill="#ff0000"/><rect x="114.30" y="447.98" width="4.50" height="31.49" fill="#d4d4ff"/><rect x="118.20" y="447.98" width="20.09" height="31.49" fill="#b6b6ff"/><rect x="137.69" y="447.98" width="4.50" height="31.49" fill="#ff4848"/><rect x="141.59" y="447.98" width="4.50" height="31.49" fill="#b6b6ff"/><rect x="145.49" y="447.98" width="4.50" height="31.49" fill="#ff9f9f"/><rect x="149.39" y="447.98" width="8.40" height="31.49" fill="#b6b6ff"/><rect x="157.18" y="447.98" width="4.50" height="31.49" fill="#ff8686"/><rect x="161.08" y="447.98" width="4.50" height="31.49" fill="#d4d4ff"/><rect x="164.98" y="447.98" width="4.50" height="31.49" fill="#ff0000"/><rect x="168.88" y="447.98" width="4.50" height="31.49" fill="#ff4848"/><rect x="172.78" y="447.98" width="4.50" height="31.49" fill="#ff6a6a"/><rect x="176.68" y="447.98" width="4.50" height="31.49" fill="#b6b6ff"/><rect x="180.57" y="447.98" width="4.50" height="31.49" fill="#ff0000"/><rect x="184.47" y="447.98" width="4.50" height="31.49" fill="#ff4848"/><rect x="188.37" y="447.98" width="4.50" height="31.49" fill="#ff0000"/><rect x="192.27" y="447.98" width="20.09" height="31.49" fill="#b6b6ff"/><rect x="211.76" y="447.98" width="4.50" height="31.49" fill="#fbfbff"/><rect x="215.66" y="447.98" width="51.28" height="31.49" fill="#b6b6ff"/><rect x="266.34" y="447.98" width="4.50" height="31.49" fill="#ff0000"/><rect x="270.24" y="447.98" width="4.50" height="31.49" fill="#d4d4ff"/><rect x="274.14" y="447.98" width="4.50" height="31.49" fill="#ff0000"/><rect x="278.03" y="447.98" width="12.30" height="31.49" fill="#b6b6ff"/><rect x="289.73" y="447.98" width="4.50" height="31.49" fill="#ff8686"/><rect x="293.63" y="447.98" width="4.50" height="31.49" fill="#d4d4ff"/><rect x="297.53" y="447.98" width="4.50" height="31.49" fill="#ff6a6a"/><rect x="301.43" y="447.98" width="8.40" height="31.49" fill="#b6b6ff"/><rect x="309.22" y="447.98" width="4.50" height="31.49" fill="#ffd8d8"/><rect x="313.12" y="447.98" width="20.09" height="31.49" fill="#b6b6ff"/><rect x="332.61" y="447.98" width="4.50" height="31.49" fill="#d4d4ff"/><rect x="336.51" y="447.98" width="16.19" height="31.49" fill="#b6b6ff"/><rect x="352.10" y="447.98" width="4.50" height="31.49" fill="#d4d4ff"/><rect x="356.00" y="447.98" width="47.38" height="31.49" fill="#b6b6ff"/><rect x="402.78" y="447.98" width="4.50" height="31.49" fill="#ff0000"/><rect x="406.68" y="447.98" width="4.50" height="31.49" fill="#d4d4ff"/><rect x="410.58" y="447.98" width="8.40" height="31.49" fill="#ff0000"/><rect x="418.38" y="447.98" width="4.50" height="31.49" fill="#b6b6ff"/><rect x="422.28" y="447.98" width="8.40" height="31.49" fill="#d4d4ff"/><rect x="430.07" y="447.98" width="4.50" height="31.49" fill="#b6b6ff"/><rect x="433.97" y="447.98" width="4.50" height="31.49" fill="#d4d4ff"/><rect x="437.87" y="447.98" width="4.50" height="31.49" fill="#fbfbff"/><rect x="441.77" y="447.98" width="4.50" height="31.49" fill="#ff4848"/><rect x="445.67" y="447.98" width="4.50" height="31.49" fill="#d4d4ff"/><rect x="449.57" y="447.98" width="8.40" height="31.49" fill="#b6b6ff"/><rect x="457.36" y="447.98" width="4.50" height="31.49" fill="#ff4848"/><rect x="461.26" y="447.98" width="4.50" height="31.49" fill="#ff2424"/><rect x="465.16" y="447.98" width="8.40" height="31.49" fill="#b6b6ff"/><rect x="472.96" y="447.98" width="4.50" height="31.49" fill="#ff0000"/><rect x="476.85" y="447.98" width="4.50" height="31.49" fill="#d4d4ff"/><rect x="480.75" y="447.98" width="20.09" height="31.49" fill="#b6b6ff"/><rect x="500.25" y="447.98" width="4.50" height="31.49" fill="#ff4848"/><rect x="504.14" y="447.98" width="12.30" height="31.49" fill="#b6b6ff"/><rect x="515.84" y="447.98" width="4.50" height="31.49" fill="#ff0000"/><rect x="519.74" y="447.98" width="20.09" height="31.49" fill="#b6b6ff"/><rect x="539.23" y="447.98" width="4.50" height="31.49" fill="#ff2424"/><rect x="543.13" y="447.98" width="20.09" height="31.49" fill="#b6b6ff"/><rect x="562.62" y="447.98" width="4.50" height="31.49" fill="#ff2424"/><rect x="566.52" y="447.98" width="8.40" height="31.49" fill="#b6b6ff"/><rect x="574.32" y="447.98" width="4.50" height="31.49" fill="#ff8686"/><rect x="578.21" y="447.98" width="35.09" height="31.49" fill="#b6b6ff"/><rect x="114.30" y="478.87" width="27.89" height="31.49" fill="#d4d4ff"/><rect x="141.59" y="478.87" width="4.50" height="31.49" fill="#ff0000"/><rect x="145.49" y="478.87" width="16.19" height="31.49" fill="#d4d4ff"/><rect x="161.08" y="478.87" width="4.50" height="31.49" fill="#ff0000"/><rect x="164.98" y="478.87" width="20.09" height="31.49" fill="#d4d4ff"/><rect x="184.47" y="478.87" width="8.40" height="31.49" fill="#ff0000"/><rect x="192.27" y="478.87" width="59.08" height="31.49" fill="#d4d4ff"/><rect x="250.75" y="478.87" width="4.50" height="31.49" fill="#ff0000"/><rect x="254.64" y="478.87" width="8.40" height="31.49" fill="#d4d4ff"/><rect x="262.44" y="478.87" width="4.50" height="31.49" fill="#ff0000"/><rect x="266.34" y="478.87" width="121.45" height="31.49" fill="#d4d4ff"/><rect x="387.19" y="478.87" width="4.50" height="31.49" fill="#ff0000"/><rect x="391.09" y="478.87" width="47.38" height="31.49" fill="#d4d4ff"/><rect x="437.87" y="478.87" width="4.50" height="31.49" fill="#ff0000"/><rect x="441.77" y="478.87" width="62.98" height="31.49" fill="#d4d4ff"/><rect x="504.14" y="478.87" width="4.50" height="31.49" fill="#ff0000"/><rect x="508.04" y="478.87" width="8.40" height="31.49" fill="#d4d4ff"/><rect x="515.84" y="478.87" width="4.50" height="31.49" fill="#ff0000"/><rect x="519.74" y="478.87" width="39.58" height="31.49" fill="#d4d4ff"/><rect x="558.72" y="478.87" width="4.50" height="31.49" fill="#ff0000"/><rect x="562.62" y="478.87" width="50.68" height="31.49" fill="#d4d4ff"/><rect x="114.30" y="509.76" width="12.30" height="31.49" fill="#9c9cff"/><rect x="126.00" y="509.76" width="4.50" height="31.49" fill="#ff4848"/><rect x="129.89" y="509.76" width="4.50" height="31.49" fill="#fbfbff"/><rect x="133.79" y="509.76" width="4.50" height="31.49" fill="#9c9cff"/><rect x="137.69" y="509.76" width="4.50" height="31.49" fill="#ff0000"/><rect x="141.59" y="509.76" width="4.50" height="31.49" fill="#fbfbff"/><rect x="145.49" y="509.76" width="4.50" height="31.49" fill="#ff6a6a"/><rect x="149.39" y="509.76" width="4.50" height="31.49" fill="#fbfbff"/><rect x="153.28" y="509.76" width="8.40" height="31.49" fill="#9c9cff"/><rect x="161.08" y="509.76" width="4.50" height="31.49" fill="#ff0000"/><rect x="164.98" y="509.76" width="4.50" height="31.49" fill="#ff8686"/><rect x="168.88" y="509.76" width="4.50" height="31.49" fill="#ff6a6a"/><rect x="172.78" y="509.76" width="4.50" height="31.49" fill="#ff4848"/><rect x="176.68" y="509.76" width="4.50" height="31.49" fill="#9c9cff"/><rect x="180.57" y="509.76" width="8.40" height="31.49" fill="#fbfbff"/><rect x="188.37" y="509.76" width="4.50" height="31.49" fill="#8080ff"/><rect x="192.27" y="509.76" width="4.50" height="31.49" fill="#ff8686"/><rect x="196.17" y="509.76" width="4.50" height="31.49" fill="#ffb6b6"/><rect x="200.07" y="509.76" width="16.19" height="31.49" fill="#9c9cff"/><rect x="215.66" y="509.76" width="4.50" height="31.49" fill="#8080ff"/><rect x="219.56" y="509.76" width="12.30" height="31.49" fill="#9c9cff"/><rect x="231.25" y="509.76" width="4.50" height="31.49" fill="#8080ff"/><rect x="235.15" y="509.76" width="4.50" height="31.49" fill="#ff8686"/><rect x="239.05" y="509.76" width="4.50" height="31.49" fill="#fbfbff"/><rect x="242.95" y="509.76" width="8.40" height="31.49" fill="#8080ff"/><rect x="250.75" y="509.76" width="4.50" height="31.49" fill="#ff4848"/><rect x="254.64" y="509.76" width="4.50" height="31.49" fill="#9c9cff"/><rect x="258.54" y="509.76" width="4.50" height="31.49" fill="#8080ff"/><rect x="262.44" y="509.76" width="8.40" height="31.49" fill="#fbfbff"/><rect x="270.24" y="509.76" width="4.50" height="31.49" fill="#8080ff"/><rect x="274.14" y="509.76" width="4.50" height="31.49" fill="#ff8686"/><rect x="278.03" y="509.76" width="4.50" height="31.49" fill="#fbfbff"/><rect x="281.93" y="509.76" width="4.50" height="31.49" fill="#8080ff"/><rect x="285.83" y="509.76" width="4.50" height="31.49" fill="#fbfbff"/><rect x="289.73" y="509.76" width="4.50" height="31.49" fill="#ff6a6a"/><rect x="293.63" y="509.76" width="4.50" height="31.49" fill="#ff8686"/><rect x="297.53" y="509.76" width="4.50" height="31.49" fill="#ff6a6a"/><rect x="301.43" y="509.76" width="4.50" height="31.49" fill="#ff8686"/><rect x="305.32" y="509.76" width="12.30" height="31.49" fill="#ff0000"/><rect x="317.02" y="509.76" width="27.89" height="31.49" fill="#9c9cff"/><rect x="344.31" y="509.76" width="12.30" height="31.49" fill="#8080ff"/><rect x="356.00" y="509.76" width="4.50" height="31.49" fill="#ff2424"/><rect x="359.90" y="509.76" width="8.40" height="31.49" fill="#8080ff"/><rect x="367.70" y="509.76" width="4.50" height="31.49" fill="#b6b6ff"/><rect x="371.60" y="509.76" width="8.40" height="31.49" fill="#ff0000"/><rect x="379.39" y="509.76" width="4.50" height="31.49" fill="#8080ff"/><rect x="383.29" y="509.76" width="4.50" height="31.49" fill="#9c9cff"/><rect x="387.19" y="509.76" width="12.30" height="31.49" fill="#8080ff"/><rect x="398.89" y="509.76" width="4.50" height="31.49" fill="#ff0000"/><rect x="402.78" y="509.76" width="4.50" height="31.49" fill="#8080ff"/><rect x="406.68" y="509.76" width="4.50" height="31.49" fill="#d4d4ff"/><rect x="410.58" y="509.76" width="4.50" height="31.49" fill="#ff2424"/><rect x="414.48" y="509.76" width="4.50" height="31.49" fill="#ffb6b6"/><rect x="418.38" y="509.76" width="8.40" height="31.49" fill="#8080ff"/><rect x="426.18" y="509.76" width="4.50" height="31.49" fill="#ffd8d8"/><rect x="430.07" y="509.76" width="4.50" height="31.49" fill="#8080ff"/><rect x="433.97" y="509.76" width="4.50" height="31.49" fill="#fbfbff"/><rect x="437.87" y="509.76" width="4.50" height="31.49" fill="#ff0000"/><rect x="441.77" y="509.76" width="4.50" height="31.49" fill="#fbfbff"/><rect x="445.67" y="509.76" width="4.50" height="31.49" fill="#b6b6ff"/><rect x="449.57" y="509.76" width="4.50" height="31.49" fill="#8080ff"/><rect x="453.46" y="509.76" width="4.50" height="31.49" fill="#d4d4ff"/><rect x="457.36" y="509.76" width="4.50" height="31.49" fill="#9c9cff"/><rect x="461.26" y="509.76" width="4.50" height="31.49" fill="#ff4848"/><rect x="465.16" y="509.76" width="4.50" height="31.49" fill="#ff2424"/><rect x="469.06" y="509.76" width="8.40" height="31.49" fill="#8080ff"/><rect x="476.85" y="509.76" width="20.09" height="31.49" fill="#9c9cff"/><rect x="496.35" y="509.76" width="4.50" height="31.49" fill="#ff0000"/><rect x="500.25" y="509.76" width="4.50" height="31.49" fill="#8080ff"/><rect x="504.14" y="509.76" width="4.50" height="31.49" fill="#d4d4ff"/><rect x="508.04" y="509.76" width="4.50" height="31.49" fill="#ff2424"/><rect x="511.94" y="509.76" width="4.50" height="31.49" fill="#ff0000"/><rect x="515.84" y="509.76" width="8.40" height="31.49" fill="#8080ff"/><rect x="523.64" y="509.76" width="4.50" height="31.49" fill="#ffb6b6"/><rect x="527.53" y="509.76" width="4.50" height="31.49" fill="#ff2424"/><rect x="531.43" y="509.76" width="4.50" height="31.49" fill="#8080ff"/><rect x="535.33" y="509.76" width="4.50" height="31.49" fill="#ff8686"/><rect x="539.23" y="509.76" width="4.50" height="31.49" fill="#fbfbff"/><rect x="543.13" y="509.76" width="4.50" height="31.49" fill="#d4d4ff"/><rect x="547.03" y="509.76" width="4.50" height="31.49" fill="#8080ff"/><rect x="550.92" y="509.76" width="4.50" height="31.49" fill="#d4d4ff"/><rect x="554.82" y="509.76" width="4.50" height="31.49" fill="#9c9cff"/><rect x="558.72" y="509.76" width="12.30" height="31.49" fill="#8080ff"/><rect x="570.42" y="509.76" width="4.50" height="31.49" fill="#d4d4ff"/><rect x="574.32" y="509.76" width="8.40" height="31.49" fill="#8080ff"/><rect x="582.11" y="509.76" width="31.19" height="31.49" fill="#9c9cff"/><rect x="114.30" y="540.65" width="4.50" height="31.49" fill="#b6b6ff"/><rect x="118.20" y="540.65" width="4.50" height="31.49" fill="#ff0000"/><rect x="122.10" y="540.65" width="4.50" height="31.49" fill="#d4d4ff"/><rect x="126.00" y="540.65" width="4.50" height="31.49" fill="#b6b6ff"/><rect x="129.89" y="540.65" width="4.50" height="31.49" fill="#d4d4ff"/><rect x="133.79" y="540.65" width="8.40" height="31.49" fill="#b6b6ff"/><rect x="141.59" y="540.65" width="4.50" height="31.49" fill="#d4d4ff"/><rect x="145.49" y="540.65" width="4.50" height="31.49" fill="#ff6a6a"/><rect x="149.39" y="540.65" width="4.50" height="31.49" fill="#d4d4ff"/><rect x="153.28" y="540.65" width="35.69" height="31.49" fill="#b6b6ff"/><rect x="188.37" y="540.65" width="4.50" height="31.49" fill="#ff0000"/><rect x="192.27" y="540.65" width="12.30" height="31.49" fill="#b6b6ff"/><rect x="203.96" y="540.65" width="4.50" height="31.49" fill="#d4d4ff"/><rect x="207.86" y="540.65" width="4.50" height="31.49" fill="#b6b6ff"/><rect x="211.76" y="540.65" width="8.40" height="31.49" fill="#d4d4ff"/><rect x="219.56" y="540.65" width="4.50" height="31.49" fill="#b6b6ff"/><rect x="223.46" y="540.65" width="8.40" height="31.49" fill="#d4d4ff"/><rect x="231.25" y="540.65" width="12.30" height="31.49" fill="#ff0000"/><rect x="242.95" y="540.65" width="4.50" height="31.49" fill="#b6b6ff"/><rect x="246.85" y="540.65" width="20.09" height="31.49" fill="#d4d4ff"/><rect x="266.34" y="540.65" width="31.79" height="31.49" fill="#b6b6ff"/><rect x="297.53" y="540.65" width="12.30" height="31.49" fill="#d4d4ff"/><rect x="309.22" y="540.65" width="4.50" height="31.49" fill="#b6b6ff"/><rect x="313.12" y="540.65" width="4.50" height="31.49" fill="#ff0000"/><rect x="317.02" y="540.65" width="4.50" height="31.49" fill="#b6b6ff"/><rect x="320.92" y="540.65" width="4.50" height="31.49" fill="#ff4848"/><rect x="324.82" y="540.65" width="4.50" height="31.49" fill="#ff9f9f"/><rect x="328.71" y="540.65" width="4.50" height="31.49" fill="#d4d4ff"/><rect x="332.61" y="540.65" width="8.40" height="31.49" fill="#b6b6ff"/><rect x="340.41" y="540.65" width="4.50" height="31.49" fill="#d4d4ff"/><rect x="344.31" y="540.65" width="4.50" height="31.49" fill="#b6b6ff"/><rect x="348.21" y="540.65" width="4.50" height="31.49" fill="#d4d4ff"/><rect x="352.10" y="540.65" width="8.40" height="31.49" fill="#b6b6ff"/><rect x="359.90" y="540.65" width="4.50" height="31.49" fill="#ff0000"/><rect x="363.80" y="540.65" width="4.50" height="31.49" fill="#fbfbff"/><rect x="367.70" y="540.65" width="4.50" height="31.49" fill="#d4d4ff"/><rect x="371.60" y="540.65" width="12.30" height="31.49" fill="#ff0000"/><rect x="383.29" y="540.65" width="8.40" height="31.49" fill="#d4d4ff"/><rect x="391.09" y="540.65" width="8.40" height="31.49" fill="#b6b6ff"/><rect x="398.89" y="540.65" width="4.50" height="31.49" fill="#ff0000"/><rect x="402.78" y="540.65" width="4.50" height="31.49" fill="#ffb6b6"/><rect x="406.68" y="540.65" width="12.30" height="31.49" fill="#b6b6ff"/><rect x="418.38" y="540.65" width="4.50" height="31.49" fill="#d4d4ff"/><rect x="422.28" y="540.65" width="55.18" height="31.49" fill="#b6b6ff"/><rect x="476.85" y="540.65" width="8.40" height="31.49" fill="#d4d4ff"/><rect x="484.65" y="540.65" width="4.50" height="31.49" fill="#ff0000"/><rect x="488.55" y="540.65" width="4.50" height="31.49" fill="#d4d4ff"/><rect x="492.45" y="540.65" width="4.50" height="31.49" fill="#ff0000"/><rect x="496.35" y="540.65" width="4.50" height="31.49" fill="#d4d4ff"/><rect x="500.25" y="540.65" width="4.50" height="31.49" fill="#b6b6ff"/><rect x="504.14" y="540.65" width="4.50" height="31.49" fill="#d4d4ff"/><rect x="508.04" y="540.65" width="8.40" height="31.49" fill="#b6b6ff"/><rect x="515.84" y="540.65" width="4.50" height="31.49" fill="#d4d4ff"/><rect x="519.74" y="540.65" width="8.40" height="31.49" fill="#b6b6ff"/><rect x="527.53" y="540.65" width="8.40" height="31.49" fill="#d4d4ff"/><rect x="535.33" y="540.65" width="8.40" height="31.49" fill="#b6b6ff"/><rect x="543.13" y="540.65" width="16.19" height="31.49" fill="#d4d4ff"/><rect x="558.72" y="540.65" width="8.40" height="31.49" fill="#b6b6ff"/><rect x="566.52" y="540.65" width="4.50" height="31.49" fill="#ff0000"/><rect x="570.42" y="540.65" width="4.50" height="31.49" fill="#d4d4ff"/><rect x="574.32" y="540.65" width="4.50" height="31.49" fill="#b6b6ff"/><rect x="578.21" y="540.65" width="4.50" height="31.49" fill="#ff0000"/><rect x="582.11" y="540.65" width="8.40" height="31.49" fill="#d4d4ff"/><rect x="589.91" y="540.65" width="12.30" height="31.49" fill="#b6b6ff"/><rect x="601.60" y="540.65" width="4.50" height="31.49" fill="#ff0000"/><rect x="605.50" y="540.65" width="7.80" height="31.49" fill="#b6b6ff"/><rect x="114.30" y="571.55" width="4.50" height="31.49" fill="#fbfbff"/><rect x="118.20" y="571.55" width="4.50" height="31.49" fill="#7070ff"/><rect x="122.10" y="571.55" width="4.50" height="31.49" fill="#fbfbff"/><rect x="126.00" y="571.55" width="4.50" height="31.49" fill="#ff0000"/><rect x="129.89" y="571.55" width="8.40" height="31.49" fill="#fbfbff"/><rect x="137.69" y="571.55" width="4.50" height="31.49" fill="#ff2424"/><rect x="141.59" y="571.55" width="12.30" height="31.49" fill="#7070ff"/><rect x="153.28" y="571.55" width="4.50" height="31.49" fill="#ff2424"/><rect x="157.18" y="571.55" width="8.40" height="31.49" fill="#ff8686"/><rect x="164.98" y="571.55" width="4.50" height="31.49" fill="#7070ff"/><rect x="168.88" y="571.55" width="8.40" height="31.49" fill="#ff2424"/><rect x="176.68" y="571.55" width="4.50" height="31.49" fill="#ff8686"/><rect x="180.57" y="571.55" width="8.40" height="31.49" fill="#ff2424"/><rect x="188.37" y="571.55" width="4.50" height="31.49" fill="#fbfbff"/><rect x="192.27" y="571.55" width="4.50" height="31.49" fill="#ff8686"/><rect x="196.17" y="571.55" width="8.40" height="31.49" fill="#fbfbff"/><rect x="203.96" y="571.55" width="16.19" height="31.49" fill="#7070ff"/><rect x="219.56" y="571.55" width="4.50" height="31.49" fill="#ff8686"/><rect x="223.46" y="571.55" width="20.09" height="31.49" fill="#7070ff"/><rect x="242.95" y="571.55" width="4.50" height="31.49" fill="#fbfbff"/><rect x="246.85" y="571.55" width="16.19" height="31.49" fill="#7070ff"/><rect x="262.44" y="571.55" width="4.50" height="31.49" fill="#fbfbff"/><rect x="266.34" y="571.55" width="12.30" height="31.49" fill="#ff8686"/><rect x="278.03" y="571.55" width="8.40" height="31.49" fill="#fbfbff"/><rect x="285.83" y="571.55" width="4.50" height="31.49" fill="#ff2424"/><rect x="289.73" y="571.55" width="4.50" height="31.49" fill="#ff8686"/><rect x="293.63" y="571.55" width="16.19" height="31.49" fill="#7070ff"/><rect x="309.22" y="571.55" width="4.50" height="31.49" fill="#ff2424"/><rect x="313.12" y="571.55" width="4.50" height="31.49" fill="#7070ff"/><rect x="317.02" y="571.55" width="4.50" height="31.49" fill="#ff2424"/><rect x="320.92" y="571.55" width="8.40" height="31.49" fill="#7070ff"/><rect x="328.71" y="571.55" width="4.50" height="31.49" fill="#fbfbff"/><rect x="332.61" y="571.55" width="4.50" height="31.49" fill="#ff8686"/><rect x="336.51" y="571.55" width="4.50" height="31.49" fill="#ff2424"/><rect x="340.41" y="571.55" width="4.50" height="31.49" fill="#7070ff"/><rect x="344.31" y="571.55" width="4.50" height="31.49" fill="#fbfbff"/><rect x="348.21" y="571.55" width="4.50" height="31.49" fill="#7070ff"/><rect x="352.10" y="571.55" width="4.50" height="31.49" fill="#fbfbff"/><rect x="356.00" y="571.55" width="27.89" height="31.49" fill="#7070ff"/><rect x="383.29" y="571.55" width="4.50" height="31.49" fill="#fbfbff"/><rect x="387.19" y="571.55" width="4.50" height="31.49" fill="#7070ff"/><rect x="391.09" y="571.55" width="8.40" height="31.49" fill="#ff2424"/><rect x="398.89" y="571.55" width="12.30" height="31.49" fill="#7070ff"/><rect x="410.58" y="571.55" width="4.50" height="31.49" fill="#ff8686"/><rect x="414.48" y="571.55" width="4.50" height="31.49" fill="#fbfbff"/><rect x="418.38" y="571.55" width="4.50" height="31.49" fill="#7070ff"/><rect x="422.28" y="571.55" width="4.50" height="31.49" fill="#ff8686"/><rect x="426.18" y="571.55" width="4.50" height="31.49" fill="#fbfbff"/><rect x="430.07" y="571.55" width="4.50" height="31.49" fill="#ff2424"/><rect x="433.97" y="571.55" width="8.40" height="31.49" fill="#fbfbff"/><rect x="441.77" y="571.55" width="4.50" height="31.49" fill="#ff2424"/><rect x="445.67" y="571.55" width="4.50" height="31.49" fill="#fbfbff"/><rect x="449.57" y="571.55" width="4.50" height="31.49" fill="#ff2424"/><rect x="453.46" y="571.55" width="4.50" height="31.49" fill="#fbfbff"/><rect x="457.36" y="571.55" width="4.50" height="31.49" fill="#ff8686"/><rect x="461.26" y="571.55" width="4.50" height="31.49" fill="#fbfbff"/><rect x="465.16" y="571.55" width="4.50" height="31.49" fill="#ff2424"/><rect x="469.06" y="571.55" width="4.50" height="31.49" fill="#ff8686"/><rect x="472.96" y="571.55" width="8.40" height="31.49" fill="#fbfbff"/><rect x="480.75" y="571.55" width="20.09" height="31.49" fill="#7070ff"/><rect x="500.25" y="571.55" width="4.50" height="31.49" fill="#ff8686"/><rect x="504.14" y="571.55" width="4.50" height="31.49" fill="#7070ff"/><rect x="508.04" y="571.55" width="8.40" height="31.49" fill="#ff2424"/><rect x="515.84" y="571.55" width="4.50" height="31.49" fill="#fbfbff"/><rect x="519.74" y="571.55" width="8.40" height="31.49" fill="#ff2424"/><rect x="527.53" y="571.55" width="8.40" height="31.49" fill="#7070ff"/><rect x="535.33" y="571.55" width="8.40" height="31.49" fill="#fbfbff"/><rect x="543.13" y="571.55" width="4.50" height="31.49" fill="#ff2424"/><rect x="547.03" y="571.55" width="4.50" height="31.49" fill="#fbfbff"/><rect x="550.92" y="571.55" width="12.30" height="31.49" fill="#7070ff"/><rect x="562.62" y="571.55" width="4.50" height="31.49" fill="#ff8686"/><rect x="566.52" y="571.55" width="8.40" height="31.49" fill="#7070ff"/><rect x="574.32" y="571.55" width="4.50" height="31.49" fill="#ff8686"/><rect x="578.21" y="571.55" width="4.50" height="31.49" fill="#fbfbff"/><rect x="582.11" y="571.55" width="8.40" height="31.49" fill="#7070ff"/><rect x="589.91" y="571.55" width="4.50" height="31.49" fill="#ff8686"/><rect x="593.81" y="571.55" width="8.40" height="31.49" fill="#ff2424"/><rect x="601.60" y="571.55" width="4.50" height="31.49" fill="#fbfbff"/><rect x="605.50" y="571.55" width="4.50" height="31.49" fill="#ff2424"/><rect x="609.40" y="571.55" width="3.90" height="31.49" fill="#ff8686"/><rect x="114.30" y="602.44" width="4.50" height="31.49" fill="#ff8686"/><rect x="118.20" y="602.44" width="8.40" height="31.49" fill="#6262ff"/><rect x="126.00" y="602.44" width="4.50" height="31.49" fill="#ff8686"/><rect x="129.89" y="602.44" width="4.50" height="31.49" fill="#6262ff"/><rect x="133.79" y="602.44" width="8.40" height="31.49" fill="#ff4848"/><rect x="141.59" y="602.44" width="12.30" height="31.49" fill="#6262ff"/><rect x="153.28" y="602.44" width="8.40" height="31.49" fill="#ff4848"/><rect x="161.08" y="602.44" width="4.50" height="31.49" fill="#fbfbff"/><rect x="164.98" y="602.44" width="12.30" height="31.49" fill="#ff4848"/><rect x="176.68" y="602.44" width="4.50" height="31.49" fill="#ff6a6a"/><rect x="180.57" y="602.44" width="8.40" height="31.49" fill="#ff4848"/><rect x="188.37" y="602.44" width="4.50" height="31.49" fill="#6262ff"/><rect x="192.27" y="602.44" width="4.50" height="31.49" fill="#ffb6b6"/><rect x="196.17" y="602.44" width="47.38" height="31.49" fill="#8080ff"/><rect x="242.95" y="602.44" width="4.50" height="31.49" fill="#ff4848"/><rect x="246.85" y="602.44" width="16.19" height="31.49" fill="#8080ff"/><rect x="262.44" y="602.44" width="4.50" height="31.49" fill="#fbfbff"/><rect x="266.34" y="602.44" width="4.50" height="31.49" fill="#ff9f9f"/><rect x="270.24" y="602.44" width="8.40" height="31.49" fill="#ff4848"/><rect x="278.03" y="602.44" width="4.50" height="31.49" fill="#8080ff"/><rect x="281.93" y="602.44" width="4.50" height="31.49" fill="#ff4848"/><rect x="285.83" y="602.44" width="4.50" height="31.49" fill="#8080ff"/><rect x="289.73" y="602.44" width="4.50" height="31.49" fill="#ff4848"/><rect x="293.63" y="602.44" width="16.19" height="31.49" fill="#8080ff"/><rect x="309.22" y="602.44" width="4.50" height="31.49" fill="#ff4848"/><rect x="313.12" y="602.44" width="20.09" height="31.49" fill="#8080ff"/><rect x="332.61" y="602.44" width="4.50" height="31.49" fill="#ff6a6a"/><rect x="336.51" y="602.44" width="4.50" height="31.49" fill="#ff8686"/><rect x="340.41" y="602.44" width="4.50" height="31.49" fill="#8080ff"/><rect x="344.31" y="602.44" width="4.50" height="31.49" fill="#ff8686"/><rect x="348.21" y="602.44" width="4.50" height="31.49" fill="#8080ff"/><rect x="352.10" y="602.44" width="4.50" height="31.49" fill="#ff6a6a"/><rect x="356.00" y="602.44" width="35.69" height="31.49" fill="#8080ff"/><rect x="391.09" y="602.44" width="8.40" height="31.49" fill="#ff4848"/><rect x="398.89" y="602.44" width="4.50" height="31.49" fill="#8080ff"/><rect x="402.78" y="602.44" width="4.50" height="31.49" fill="#ff9f9f"/><rect x="406.68" y="602.44" width="12.30" height="31.49" fill="#ff4848"/><rect x="418.38" y="602.44" width="4.50" height="31.49" fill="#8080ff"/><rect x="422.28" y="602.44" width="12.30" height="31.49" fill="#ff4848"/><rect x="433.97" y="602.44" width="4.50" height="31.49" fill="#ff6a6a"/><rect x="437.87" y="602.44" width="4.50" height="31.49" fill="#8080ff"/><rect x="441.77" y="602.44" width="4.50" height="31.49" fill="#ff4848"/><rect x="445.67" y="602.44" width="4.50" height="31.49" fill="#ff8686"/><rect x="449.57" y="602.44" width="4.50" height="31.49" fill="#fbfbff"/><rect x="453.46" y="602.44" width="4.50" height="31.49" fill="#ff4848"/><rect x="457.36" y="602.44" width="4.50" height="31.49" fill="#ffb6b6"/><rect x="461.26" y="602.44" width="4.50" height="31.49" fill="#fbfbff"/><rect x="465.16" y="602.44" width="4.50" height="31.49" fill="#b6b6ff"/><rect x="469.06" y="602.44" width="4.50" height="31.49" fill="#d4d4ff"/><rect x="472.96" y="602.44" width="4.50" height="31.49" fill="#ff4848"/><rect x="476.85" y="602.44" width="23.99" height="31.49" fill="#8080ff"/><rect x="500.25" y="602.44" width="4.50" height="31.49" fill="#ff4848"/><rect x="504.14" y="602.44" width="12.30" height="31.49" fill="#8080ff"/><rect x="515.84" y="602.44" width="4.50" height="31.49" fill="#ff8686"/><rect x="519.74" y="602.44" width="4.50" height="31.49" fill="#8080ff"/><rect x="523.64" y="602.44" width="4.50" height="31.49" fill="#ff4848"/><rect x="527.53" y="602.44" width="4.50" height="31.49" fill="#d4d4ff"/><rect x="531.43" y="602.44" width="4.50" height="31.49" fill="#9c9cff"/><rect x="535.33" y="602.44" width="4.50" height="31.49" fill="#8080ff"/><rect x="539.23" y="602.44" width="4.50" height="31.49" fill="#ff6a6a"/><rect x="543.13" y="602.44" width="8.40" height="31.49" fill="#8080ff"/><rect x="550.92" y="602.44" width="4.50" height="31.49" fill="#ff4848"/><rect x="554.82" y="602.44" width="4.50" height="31.49" fill="#8080ff"/><rect x="558.72" y="602.44" width="4.50" height="31.49" fill="#ff4848"/><rect x="562.62" y="602.44" width="4.50" height="31.49" fill="#ffb6b6"/><rect x="566.52" y="602.44" width="8.40" height="31.49" fill="#8080ff"/><rect x="574.32" y="602.44" width="4.50" height="31.49" fill="#ff8686"/><rect x="578.21" y="602.44" width="16.19" height="31.49" fill="#8080ff"/><rect x="593.81" y="602.44" width="4.50" height="31.49" fill="#9c9cff"/><rect x="597.71" y="602.44" width="4.50" height="31.49" fill="#ff4848"/><rect x="601.60" y="602.44" width="4.50" height="31.49" fill="#8080ff"/><rect x="605.50" y="602.44" width="4.50" height="31.49" fill="#ff4848"/><rect x="609.40" y="602.44" width="3.90" height="31.49" fill="#ff6a6a"/><rect x="114.30" y="633.33" width="4.50" height="31.49" fill="#ff4848"/><rect x="118.20" y="633.33" width="4.50" height="31.49" fill="#8080ff"/><rect x="122.10" y="633.33" width="4.50" height="31.49" fill="#ff9f9f"/><rect x="126.00" y="633.33" width="4.50" height="31.49" fill="#fbfbff"/><rect x="129.89" y="633.33" width="4.50" height="31.49" fill="#ff8686"/><rect x="133.79" y="633.33" width="8.40" height="31.49" fill="#d4d4ff"/><rect x="141.59" y="633.33" width="12.30" height="31.49" fill="#8080ff"/><rect x="153.28" y="633.33" width="4.50" height="31.49" fill="#ff4848"/><rect x="157.18" y="633.33" width="8.40" height="31.49" fill="#8080ff"/><rect x="164.98" y="633.33" width="4.50" height="31.49" fill="#ff9f9f"/><rect x="168.88" y="633.33" width="4.50" height="31.49" fill="#d4d4ff"/><rect x="172.78" y="633.33" width="4.50" height="31.49" fill="#ff9f9f"/><rect x="176.68" y="633.33" width="4.50" height="31.49" fill="#ff4848"/><rect x="180.57" y="633.33" width="4.50" height="31.49" fill="#8080ff"/><rect x="184.47" y="633.33" width="4.50" height="31.49" fill="#d4d4ff"/><rect x="188.37" y="633.33" width="4.50" height="31.49" fill="#ff4848"/><rect x="192.27" y="633.33" width="51.28" height="31.49" fill="#8080ff"/><rect x="242.95" y="633.33" width="4.50" height="31.49" fill="#d4d4ff"/><rect x="246.85" y="633.33" width="23.99" height="31.49" fill="#8080ff"/><rect x="270.24" y="633.33" width="4.50" height="31.49" fill="#ff4848"/><rect x="274.14" y="633.33" width="8.40" height="31.49" fill="#8080ff"/><rect x="281.93" y="633.33" width="4.50" height="31.49" fill="#d4d4ff"/><rect x="285.83" y="633.33" width="4.50" height="31.49" fill="#ff4848"/><rect x="289.73" y="633.33" width="4.50" height="31.49" fill="#d4d4ff"/><rect x="293.63" y="633.33" width="4.50" height="31.49" fill="#8080ff"/><rect x="297.53" y="633.33" width="4.50" height="31.49" fill="#ff9f9f"/><rect x="301.43" y="633.33" width="16.19" height="31.49" fill="#8080ff"/><rect x="317.02" y="633.33" width="4.50" height="31.49" fill="#ff4848"/><rect x="320.92" y="633.33" width="12.30" height="31.49" fill="#8080ff"/><rect x="332.61" y="633.33" width="23.99" height="31.49" fill="#ff4848"/><rect x="356.00" y="633.33" width="8.40" height="31.49" fill="#8080ff"/><rect x="363.80" y="633.33" width="8.40" height="31.49" fill="#ff4848"/><rect x="371.60" y="633.33" width="16.19" height="31.49" fill="#8080ff"/><rect x="387.19" y="633.33" width="12.30" height="31.49" fill="#ff4848"/><rect x="398.89" y="633.33" width="4.50" height="31.49" fill="#8080ff"/><rect x="402.78" y="633.33" width="4.50" height="31.49" fill="#ff4848"/><rect x="406.68" y="633.33" width="12.30" height="31.49" fill="#8080ff"/><rect x="418.38" y="633.33" width="23.99" height="31.49" fill="#ff4848"/><rect x="441.77" y="633.33" width="4.50" height="31.49" fill="#d4d4ff"/><rect x="445.67" y="633.33" width="16.19" height="31.49" fill="#ff4848"/><rect x="461.26" y="633.33" width="8.40" height="31.49" fill="#8080ff"/><rect x="469.06" y="633.33" width="8.40" height="31.49" fill="#ff4848"/><rect x="476.85" y="633.33" width="4.50" height="31.49" fill="#8080ff"/><rect x="480.75" y="633.33" width="4.50" height="31.49" fill="#ff4848"/><rect x="484.65" y="633.33" width="4.50" height="31.49" fill="#ff9f9f"/><rect x="488.55" y="633.33" width="4.50" height="31.49" fill="#8080ff"/><rect x="492.45" y="633.33" width="8.40" height="31.49" fill="#ff4848"/><rect x="500.25" y="633.33" width="16.19" height="31.49" fill="#8080ff"/><rect x="515.84" y="633.33" width="4.50" height="31.49" fill="#ff4848"/><rect x="519.74" y="633.33" width="16.19" height="31.49" fill="#8080ff"/><rect x="535.33" y="633.33" width="4.50" height="31.49" fill="#ff4848"/><rect x="539.23" y="633.33" width="4.50" height="31.49" fill="#d4d4ff"/><rect x="543.13" y="633.33" width="8.40" height="31.49" fill="#8080ff"/><rect x="550.92" y="633.33" width="4.50" height="31.49" fill="#ff9f9f"/><rect x="554.82" y="633.33" width="4.50" height="31.49" fill="#8080ff"/><rect x="558.72" y="633.33" width="8.40" height="31.49" fill="#ff4848"/><rect x="566.52" y="633.33" width="8.40" height="31.49" fill="#8080ff"/><rect x="574.32" y="633.33" width="4.50" height="31.49" fill="#ff4848"/><rect x="578.21" y="633.33" width="8.40" height="31.49" fill="#8080ff"/><rect x="586.01" y="633.33" width="4.50" height="31.49" fill="#ff4848"/><rect x="589.91" y="633.33" width="8.40" height="31.49" fill="#ff9f9f"/><rect x="597.71" y="633.33" width="12.30" height="31.49" fill="#ff4848"/><rect x="609.40" y="633.33" width="3.90" height="31.49" fill="#8080ff"/><rect x="114.30" y="664.22" width="4.50" height="31.49" fill="#ff8686"/><rect x="118.20" y="664.22" width="8.40" height="31.49" fill="#0000ff"/><rect x="126.00" y="664.22" width="4.50" height="31.49" fill="#ff8686"/><rect x="129.89" y="664.22" width="4.50" height="31.49" fill="#fbfbff"/><rect x="133.79" y="664.22" width="8.40" height="31.49" fill="#ff8686"/><rect x="141.59" y="664.22" width="4.50" height="31.49" fill="#6262ff"/><rect x="145.49" y="664.22" width="4.50" height="31.49" fill="#d4d4ff"/><rect x="149.39" y="664.22" width="12.30" height="31.49" fill="#ff8686"/><rect x="161.08" y="664.22" width="4.50" height="31.49" fill="#fbfbff"/><rect x="164.98" y="664.22" width="4.50" height="31.49" fill="#ff8686"/><rect x="168.88" y="664.22" width="4.50" height="31.49" fill="#ff6a6a"/><rect x="172.78" y="664.22" width="16.19" height="31.49" fill="#ff8686"/><rect x="188.37" y="664.22" width="4.50" height="31.49" fill="#0000ff"/><rect x="192.27" y="664.22" width="8.40" height="31.49" fill="#ff8686"/><rect x="200.07" y="664.22" width="4.50" height="31.49" fill="#6262ff"/><rect x="203.96" y="664.22" width="4.50" height="31.49" fill="#0000ff"/><rect x="207.86" y="664.22" width="12.30" height="31.49" fill="#ff8686"/><rect x="219.56" y="664.22" width="12.30" height="31.49" fill="#fbfbff"/><rect x="231.25" y="664.22" width="4.50" height="31.49" fill="#2424ff"/><rect x="235.15" y="664.22" width="4.50" height="31.49" fill="#fbfbff"/><rect x="239.05" y="664.22" width="4.50" height="31.49" fill="#0000ff"/><rect x="242.95" y="664.22" width="4.50" height="31.49" fill="#ff8686"/><rect x="246.85" y="664.22" width="4.50" height="31.49" fill="#fbfbff"/><rect x="250.75" y="664.22" width="4.50" height="31.49" fill="#ff8686"/><rect x="254.64" y="664.22" width="4.50" height="31.49" fill="#d4d4ff"/><rect x="258.54" y="664.22" width="20.09" height="31.49" fill="#ff8686"/><rect x="278.03" y="664.22" width="4.50" height="31.49" fill="#6262ff"/><rect x="281.93" y="664.22" width="12.30" height="31.49" fill="#ff8686"/><rect x="293.63" y="664.22" width="4.50" height="31.49" fill="#6262ff"/><rect x="297.53" y="664.22" width="4.50" height="31.49" fill="#ff8686"/><rect x="301.43" y="664.22" width="4.50" height="31.49" fill="#4545ff"/><rect x="305.32" y="664.22" width="4.50" height="31.49" fill="#ff9f9f"/><rect x="309.22" y="664.22" width="4.50" height="31.49" fill="#ff8686"/><rect x="313.12" y="664.22" width="4.50" height="31.49" fill="#ffd8d8"/><rect x="317.02" y="664.22" width="4.50" height="31.49" fill="#d4d4ff"/><rect x="320.92" y="664.22" width="4.50" height="31.49" fill="#ff8686"/><rect x="324.82" y="664.22" width="4.50" height="31.49" fill="#4545ff"/><rect x="328.71" y="664.22" width="12.30" height="31.49" fill="#ff8686"/><rect x="340.41" y="664.22" width="8.40" height="31.49" fill="#fbfbff"/><rect x="348.21" y="664.22" width="4.50" height="31.49" fill="#0000ff"/><rect x="352.10" y="664.22" width="4.50" height="31.49" fill="#ff8686"/><rect x="356.00" y="664.22" width="8.40" height="31.49" fill="#0000ff"/><rect x="363.80" y="664.22" width="4.50" height="31.49" fill="#ff9f9f"/><rect x="367.70" y="664.22" width="4.50" height="31.49" fill="#2424ff"/><rect x="371.60" y="664.22" width="12.30" height="31.49" fill="#0000ff"/><rect x="383.29" y="664.22" width="4.50" height="31.49" fill="#ffd8d8"/><rect x="387.19" y="664.22" width="4.50" height="31.49" fill="#0000ff"/><rect x="391.09" y="664.22" width="4.50" height="31.49" fill="#2424ff"/><rect x="394.99" y="664.22" width="4.50" height="31.49" fill="#ff8686"/><rect x="398.89" y="664.22" width="4.50" height="31.49" fill="#0000ff"/><rect x="402.78" y="664.22" width="4.50" height="31.49" fill="#9c9cff"/><rect x="406.68" y="664.22" width="4.50" height="31.49" fill="#ff8686"/><rect x="410.58" y="664.22" width="8.40" height="31.49" fill="#fbfbff"/><rect x="418.38" y="664.22" width="27.89" height="31.49" fill="#ff8686"/><rect x="445.67" y="664.22" width="4.50" height="31.49" fill="#fbfbff"/><rect x="449.57" y="664.22" width="4.50" height="31.49" fill="#ff8686"/><rect x="453.46" y="664.22" width="4.50" height="31.49" fill="#fbfbff"/><rect x="457.36" y="664.22" width="23.99" height="31.49" fill="#ff8686"/><rect x="480.75" y="664.22" width="4.50" height="31.49" fill="#b6b6ff"/><rect x="484.65" y="664.22" width="4.50" height="31.49" fill="#0000ff"/><rect x="488.55" y="664.22" width="4.50" height="31.49" fill="#ff8686"/><rect x="492.45" y="664.22" width="4.50" height="31.49" fill="#b6b6ff"/><rect x="496.35" y="664.22" width="4.50" height="31.49" fill="#d4d4ff"/><rect x="500.25" y="664.22" width="8.40" height="31.49" fill="#ff8686"/><rect x="508.04" y="664.22" width="4.50" height="31.49" fill="#0000ff"/><rect x="511.94" y="664.22" width="4.50" height="31.49" fill="#d4d4ff"/><rect x="515.84" y="664.22" width="4.50" height="31.49" fill="#0000ff"/><rect x="519.74" y="664.22" width="27.89" height="31.49" fill="#ff8686"/><rect x="547.03" y="664.22" width="8.40" height="31.49" fill="#fbfbff"/><rect x="554.82" y="664.22" width="4.50" height="31.49" fill="#d4d4ff"/><rect x="558.72" y="664.22" width="4.50" height="31.49" fill="#0000ff"/><rect x="562.62" y="664.22" width="4.50" height="31.49" fill="#ff8686"/><rect x="566.52" y="664.22" width="8.40" height="31.49" fill="#d4d4ff"/><rect x="574.32" y="664.22" width="4.50" height="31.49" fill="#fbfbff"/><rect x="578.21" y="664.22" width="4.50" height="31.49" fill="#0000ff"/><rect x="582.11" y="664.22" width="4.50" height="31.49" fill="#ff8686"/><rect x="586.01" y="664.22" width="4.50" height="31.49" fill="#6262ff"/><rect x="589.91" y="664.22" width="4.50" height="31.49" fill="#0000ff"/><rect x="593.81" y="664.22" width="8.40" height="31.49" fill="#ff8686"/><rect x="601.60" y="664.22" width="4.50" height="31.49" fill="#0000ff"/><rect x="605.50" y="664.22" width="7.80" height="31.49" fill="#ff8686"/><rect x="114.30" y="695.12" width="12.30" height="31.49" fill="#2424ff"/><rect x="126.00" y="695.12" width="4.50" height="31.49" fill="#ff8686"/><rect x="129.89" y="695.12" width="4.50" height="31.49" fill="#0000ff"/><rect x="133.79" y="695.12" width="8.40" height="31.49" fill="#ff8686"/><rect x="141.59" y="695.12" width="4.50" height="31.49" fill="#ffd8d8"/><rect x="145.49" y="695.12" width="4.50" height="31.49" fill="#2424ff"/><rect x="149.39" y="695.12" width="12.30" height="31.49" fill="#ff8686"/><rect x="161.08" y="695.12" width="4.50" height="31.49" fill="#6262ff"/><rect x="164.98" y="695.12" width="23.99" height="31.49" fill="#ff8686"/><rect x="188.37" y="695.12" width="4.50" height="31.49" fill="#0000ff"/><rect x="192.27" y="695.12" width="12.30" height="31.49" fill="#ff8686"/><rect x="203.96" y="695.12" width="4.50" height="31.49" fill="#0000ff"/><rect x="207.86" y="695.12" width="4.50" height="31.49" fill="#ff8686"/><rect x="211.76" y="695.12" width="4.50" height="31.49" fill="#b6b6ff"/><rect x="215.66" y="695.12" width="12.30" height="31.49" fill="#ff8686"/><rect x="227.35" y="695.12" width="4.50" height="31.49" fill="#ffd8d8"/><rect x="231.25" y="695.12" width="12.30" height="31.49" fill="#2424ff"/><rect x="242.95" y="695.12" width="12.30" height="31.49" fill="#ff8686"/><rect x="254.64" y="695.12" width="4.50" height="31.49" fill="#9c9cff"/><rect x="258.54" y="695.12" width="4.50" height="31.49" fill="#8080ff"/><rect x="262.44" y="695.12" width="8.40" height="31.49" fill="#ff8686"/><rect x="270.24" y="695.12" width="4.50" height="31.49" fill="#4545ff"/><rect x="274.14" y="695.12" width="4.50" height="31.49" fill="#ff8686"/><rect x="278.03" y="695.12" width="4.50" height="31.49" fill="#6262ff"/><rect x="281.93" y="695.12" width="12.30" height="31.49" fill="#ff8686"/><rect x="293.63" y="695.12" width="4.50" height="31.49" fill="#2424ff"/><rect x="297.53" y="695.12" width="4.50" height="31.49" fill="#4545ff"/><rect x="301.43" y="695.12" width="4.50" height="31.49" fill="#b6b6ff"/><rect x="305.32" y="695.12" width="8.40" height="31.49" fill="#ff8686"/><rect x="313.12" y="695.12" width="4.50" height="31.49" fill="#fbfbff"/><rect x="317.02" y="695.12" width="4.50" height="31.49" fill="#ff8686"/><rect x="320.92" y="695.12" width="16.19" height="31.49" fill="#2424ff"/><rect x="336.51" y="695.12" width="4.50" height="31.49" fill="#ff8686"/><rect x="340.41" y="695.12" width="4.50" height="31.49" fill="#b6b6ff"/><rect x="344.31" y="695.12" width="12.30" height="31.49" fill="#ff8686"/><rect x="356.00" y="695.12" width="4.50" height="31.49" fill="#fbfbff"/><rect x="359.90" y="695.12" width="4.50" height="31.49" fill="#2424ff"/><rect x="363.80" y="695.12" width="4.50" height="31.49" fill="#8080ff"/><rect x="367.70" y="695.12" width="4.50" height="31.49" fill="#ff8686"/><rect x="371.60" y="695.12" width="16.19" height="31.49" fill="#2424ff"/><rect x="387.19" y="695.12" width="12.30" height="31.49" fill="#ff8686"/><rect x="398.89" y="695.12" width="4.50" height="31.49" fill="#b6b6ff"/><rect x="402.78" y="695.12" width="8.40" height="31.49" fill="#ff8686"/><rect x="410.58" y="695.12" width="4.50" height="31.49" fill="#ffd8d8"/><rect x="414.48" y="695.12" width="4.50" height="31.49" fill="#ff8686"/><rect x="418.38" y="695.12" width="4.50" height="31.49" fill="#9c9cff"/><rect x="422.28" y="695.12" width="23.99" height="31.49" fill="#ff8686"/><rect x="445.67" y="695.12" width="4.50" height="31.49" fill="#2424ff"/><rect x="449.57" y="695.12" width="23.99" height="31.49" fill="#ff8686"/><rect x="472.96" y="695.12" width="4.50" height="31.49" fill="#fbfbff"/><rect x="476.85" y="695.12" width="4.50" height="31.49" fill="#4545ff"/><rect x="480.75" y="695.12" width="4.50" height="31.49" fill="#ff8686"/><rect x="484.65" y="695.12" width="4.50" height="31.49" fill="#0000ff"/><rect x="488.55" y="695.12" width="4.50" height="31.49" fill="#b6b6ff"/><rect x="492.45" y="695.12" width="4.50" height="31.49" fill="#fbfbff"/><rect x="496.35" y="695.12" width="8.40" height="31.49" fill="#ff8686"/><rect x="504.14" y="695.12" width="4.50" height="31.49" fill="#ffd8d8"/><rect x="508.04" y="695.12" width="8.40" height="31.49" fill="#ff8686"/><rect x="515.84" y="695.12" width="4.50" height="31.49" fill="#0000ff"/><rect x="519.74" y="695.12" width="4.50" height="31.49" fill="#ff8686"/><rect x="523.64" y="695.12" width="8.40" height="31.49" fill="#fbfbff"/><rect x="531.43" y="695.12" width="4.50" height="31.49" fill="#2424ff"/><rect x="535.33" y="695.12" width="12.30" height="31.49" fill="#ff8686"/><rect x="547.03" y="695.12" width="4.50" height="31.49" fill="#b6b6ff"/><rect x="550.92" y="695.12" width="8.40" height="31.49" fill="#ff8686"/><rect x="558.72" y="695.12" width="4.50" height="31.49" fill="#2424ff"/><rect x="562.62" y="695.12" width="4.50" height="31.49" fill="#ff8686"/><rect x="566.52" y="695.12" width="4.50" height="31.49" fill="#4545ff"/><rect x="570.42" y="695.12" width="4.50" height="31.49" fill="#0000ff"/><rect x="574.32" y="695.12" width="4.50" height="31.49" fill="#ff8686"/><rect x="578.21" y="695.12" width="4.50" height="31.49" fill="#fbfbff"/><rect x="582.11" y="695.12" width="4.50" height="31.49" fill="#ff9f9f"/><rect x="586.01" y="695.12" width="4.50" height="31.49" fill="#ff8686"/><rect x="589.91" y="695.12" width="4.50" height="31.49" fill="#fbfbff"/><rect x="593.81" y="695.12" width="4.50" height="31.49" fill="#0000ff"/><rect x="597.71" y="695.12" width="4.50" height="31.49" fill="#ff8686"/><rect x="601.60" y="695.12" width="4.50" height="31.49" fill="#2424ff"/><rect x="605.50" y="695.12" width="7.80" height="31.49" fill="#ff8686"/><rect x="114.30" y="726.01" width="4.50" height="30.89" fill="#2424ff"/><rect x="118.20" y="726.01" width="4.50" height="30.89" fill="#ff9f9f"/><rect x="122.10" y="726.01" width="4.50" height="30.89" fill="#2424ff"/><rect x="126.00" y="726.01" width="4.50" height="30.89" fill="#ff8686"/><rect x="129.89" y="726.01" width="4.50" height="30.89" fill="#ff9f9f"/><rect x="133.79" y="726.01" width="8.40" height="30.89" fill="#ff6a6a"/><rect x="141.59" y="726.01" width="4.50" height="30.89" fill="#4545ff"/><rect x="145.49" y="726.01" width="4.50" height="30.89" fill="#ffd8d8"/><rect x="149.39" y="726.01" width="4.50" height="30.89" fill="#fbfbff"/><rect x="153.28" y="726.01" width="4.50" height="30.89" fill="#2424ff"/><rect x="157.18" y="726.01" width="4.50" height="30.89" fill="#ffb6b6"/><rect x="161.08" y="726.01" width="4.50" height="30.89" fill="#ff8686"/><rect x="164.98" y="726.01" width="12.30" height="30.89" fill="#ff6a6a"/><rect x="176.68" y="726.01" width="4.50" height="30.89" fill="#2424ff"/><rect x="180.57" y="726.01" width="8.40" height="30.89" fill="#ff6a6a"/><rect x="188.37" y="726.01" width="4.50" height="30.89" fill="#2424ff"/><rect x="192.27" y="726.01" width="12.30" height="30.89" fill="#ff6a6a"/><rect x="203.96" y="726.01" width="4.50" height="30.89" fill="#ff8686"/><rect x="207.86" y="726.01" width="4.50" height="30.89" fill="#ff6a6a"/><rect x="211.76" y="726.01" width="8.40" height="30.89" fill="#ff8686"/><rect x="219.56" y="726.01" width="4.50" height="30.89" fill="#ff6a6a"/><rect x="223.46" y="726.01" width="4.50" height="30.89" fill="#ffb6b6"/><rect x="227.35" y="726.01" width="4.50" height="30.89" fill="#8080ff"/><rect x="231.25" y="726.01" width="4.50" height="30.89" fill="#ff6a6a"/><rect x="235.15" y="726.01" width="4.50" height="30.89" fill="#ff8686"/><rect x="239.05" y="726.01" width="4.50" height="30.89" fill="#ffd8d8"/><rect x="242.95" y="726.01" width="12.30" height="30.89" fill="#ff6a6a"/><rect x="254.64" y="726.01" width="4.50" height="30.89" fill="#fbfbff"/><rect x="258.54" y="726.01" width="8.40" height="30.89" fill="#ff6a6a"/><rect x="266.34" y="726.01" width="4.50" height="30.89" fill="#ffb6b6"/><rect x="270.24" y="726.01" width="4.50" height="30.89" fill="#ff6a6a"/><rect x="274.14" y="726.01" width="4.50" height="30.89" fill="#ff8686"/><rect x="278.03" y="726.01" width="4.50" height="30.89" fill="#8080ff"/><rect x="281.93" y="726.01" width="4.50" height="30.89" fill="#ff6a6a"/><rect x="285.83" y="726.01" width="4.50" height="30.89" fill="#2424ff"/><rect x="289.73" y="726.01" width="4.50" height="30.89" fill="#ff8686"/><rect x="293.63" y="726.01" width="4.50" height="30.89" fill="#ffd8d8"/><rect x="297.53" y="726.01" width="4.50" height="30.89" fill="#ff6a6a"/><rect x="301.43" y="726.01" width="8.40" height="30.89" fill="#ff8686"/><rect x="309.22" y="726.01" width="4.50" height="30.89" fill="#8080ff"/><rect x="313.12" y="726.01" width="4.50" height="30.89" fill="#ff6a6a"/><rect x="317.02" y="726.01" width="4.50" height="30.89" fill="#2424ff"/><rect x="320.92" y="726.01" width="4.50" height="30.89" fill="#ffd8d8"/><rect x="324.82" y="726.01" width="4.50" height="30.89" fill="#ff6a6a"/><rect x="328.71" y="726.01" width="4.50" height="30.89" fill="#ff8686"/><rect x="332.61" y="726.01" width="4.50" height="30.89" fill="#8080ff"/><rect x="336.51" y="726.01" width="20.09" height="30.89" fill="#4545ff"/><rect x="356.00" y="726.01" width="4.50" height="30.89" fill="#ff6a6a"/><rect x="359.90" y="726.01" width="8.40" height="30.89" fill="#4545ff"/><rect x="367.70" y="726.01" width="4.50" height="30.89" fill="#ffd8d8"/><rect x="371.60" y="726.01" width="8.40" height="30.89" fill="#ff6a6a"/><rect x="379.39" y="726.01" width="4.50" height="30.89" fill="#ffb6b6"/><rect x="383.29" y="726.01" width="4.50" height="30.89" fill="#b6b6ff"/><rect x="387.19" y="726.01" width="4.50" height="30.89" fill="#ff6a6a"/><rect x="391.09" y="726.01" width="8.40" height="30.89" fill="#4545ff"/><rect x="398.89" y="726.01" width="4.50" height="30.89" fill="#ff6a6a"/><rect x="402.78" y="726.01" width="4.50" height="30.89" fill="#4545ff"/><rect x="406.68" y="726.01" width="16.19" height="30.89" fill="#ff6a6a"/><rect x="422.28" y="726.01" width="16.19" height="30.89" fill="#4545ff"/><rect x="437.87" y="726.01" width="8.40" height="30.89" fill="#ff6a6a"/><rect x="445.67" y="726.01" width="16.19" height="30.89" fill="#4545ff"/><rect x="461.26" y="726.01" width="8.40" height="30.89" fill="#ff6a6a"/><rect x="469.06" y="726.01" width="4.50" height="30.89" fill="#4545ff"/><rect x="472.96" y="726.01" width="4.50" height="30.89" fill="#ff6a6a"/><rect x="476.85" y="726.01" width="4.50" height="30.89" fill="#fbfbff"/><rect x="480.75" y="726.01" width="8.40" height="30.89" fill="#4545ff"/><rect x="488.55" y="726.01" width="4.50" height="30.89" fill="#ff6a6a"/><rect x="492.45" y="726.01" width="4.50" height="30.89" fill="#2424ff"/><rect x="496.35" y="726.01" width="4.50" height="30.89" fill="#ff9f9f"/><rect x="500.25" y="726.01" width="4.50" height="30.89" fill="#8080ff"/><rect x="504.14" y="726.01" width="4.50" height="30.89" fill="#ff8686"/><rect x="508.04" y="726.01" width="8.40" height="30.89" fill="#ff6a6a"/><rect x="515.84" y="726.01" width="4.50" height="30.89" fill="#2424ff"/><rect x="519.74" y="726.01" width="8.40" height="30.89" fill="#ff6a6a"/><rect x="527.53" y="726.01" width="4.50" height="30.89" fill="#ff8686"/><rect x="531.43" y="726.01" width="4.50" height="30.89" fill="#ffb6b6"/><rect x="535.33" y="726.01" width="4.50" height="30.89" fill="#2424ff"/><rect x="539.23" y="726.01" width="8.40" height="30.89" fill="#ff6a6a"/><rect x="547.03" y="726.01" width="4.50" height="30.89" fill="#ff8686"/><rect x="550.92" y="726.01" width="4.50" height="30.89" fill="#6262ff"/><rect x="554.82" y="726.01" width="4.50" height="30.89" fill="#ffd8d8"/><rect x="558.72" y="726.01" width="8.40" height="30.89" fill="#4545ff"/><rect x="566.52" y="726.01" width="4.50" height="30.89" fill="#fbfbff"/><rect x="570.42" y="726.01" width="4.50" height="30.89" fill="#ffd8d8"/><rect x="574.32" y="726.01" width="4.50" height="30.89" fill="#2424ff"/><rect x="578.21" y="726.01" width="4.50" height="30.89" fill="#ffb6b6"/><rect x="582.11" y="726.01" width="4.50" height="30.89" fill="#ff6a6a"/><rect x="586.01" y="726.01" width="12.30" height="30.89" fill="#4545ff"/><rect x="597.71" y="726.01" width="4.50" height="30.89" fill="#ff8686"/><rect x="601.60" y="726.01" width="8.40" height="30.89" fill="#4545ff"/><rect x="609.40" y="726.01" width="3.90" height="30.89" fill="#d4d4ff"/><path d="M159 2.5H402M159.5 2V58M401.5 2V27M118 57.5H201M118.5 57V76M114 75.5H122M114.5 75V88M121.5 75V88M118 87.5H123M200.5 57V62M145 61.5H255M145.5 61V70M132 69.5H159M132.5 69V78M126 77.5H138M126.5 77V88M137.5 77V79M132 78.5H142M132.5 78V88M141.5 78V88M130 87.5H135M138 87.5H151M158.5 69V81M153 80.5H162M153.5 80V88M161.5 80V88M158 87.5H217M254.5 61V69M231 68.5H278M231.5 68V74M222 73.5H242M222.5 73V81M220 80.5H227M220.5 80V88M226.5 80V82M224 81.5H229M224.5 81V88M228.5 81V88M241.5 73V77M235 76.5H248M235.5 76V88M247.5 76V88M231 87.5H241M243 87.5H261M277.5 68V75M268 74.5H286M268.5 74V79M265 78.5H274M265.5 78V82M263 81.5H267M263.5 81V88M266.5 81V88M273.5 78V88M270 87.5H275M285.5 74V78M280 77.5H291M280.5 77V82M278 81.5H283M278.5 81V88M282.5 81V88M290.5 77V81M286 80.5H294M286.5 80V88M293.5 80V88M290 87.5H299M333 26.5H472M333.5 26V48M311 47.5H356M311.5 47V66M305 65.5H318M305.5 65V79M302 78.5H308M302.5 78V88M307.5 78V88M305 87.5H311M317.5 65V76M313 75.5H321M313.5 75V88M320.5 75V82M317 81.5H324M317.5 81V88M323.5 81V88M321 87.5H326M355.5 47V66M334 65.5H376M334.5 65V76M329 75.5H339M329.5 75V88M338.5 75V78M335 77.5H346M335.5 77V82M333 81.5H338M333.5 81V88M337.5 81V88M345.5 77V79M342 78.5H349M342.5 78V88M348.5 78V82M344 81.5H351M344.5 81V88M350.5 81V88M348 87.5H353M375.5 65V69M361 68.5H389M361.5 68V75M356 74.5H368M356.5 74V88M367.5 74V79M362 78.5H372M362.5 78V82M360 81.5H365M360.5 81V88M364.5 81V88M371.5 78V82M368 81.5H375M368.5 81V88M374.5 81V88M371 87.5H377M388.5 68V74M381 73.5H395M381.5 73V82M380 81.5H385M380.5 81V88M384.5 81V88M394.5 73V78M389 77.5H399M389.5 77V88M387 87.5H392M398.5 77V82M395 81.5H402M395.5 81V88M401.5 81V88M399 87.5H404M471.5 26V45M429 44.5H513M429.5 44V59M413 58.5H446M413.5 58V74M409 73.5H419M409.5 73V80M407 79.5H412M407.5 79V88M411.5 79V88M418.5 73V88M415 79.5H423M415.5 79V88M422.5 79V88M445.5 58V64M435 63.5H456M435.5 63V73M430 72.5H442M430.5 72V81M427 80.5H435M427.5 80V88M434.5 80V88M431.5 81V88M441.5 72V82M438 81.5H446M438.5 81V88M445.5 81V88M442 87.5H447M455.5 63V73M450 72.5H460M450.5 72V88M459.5 72V78M456 77.5H464M456.5 77V82M454 81.5H459M454.5 81V88M458.5 81V88M463.5 77V82M462 81.5H467M462.5 81V88M466.5 81V88M512.5 44V59M489 58.5H536M489.5 58V69M475 68.5H504M475.5 68V77M470 76.5H481M470.5 76V88M480.5 76V79M475 78.5H485M475.5 78V82M473 81.5H478M473.5 81V88M477.5 81V88M484.5 78V82M482 81.5H488M482.5 81V88M487.5 81V88M485 87.5H490M503.5 68V75M496 74.5H512M496.5 74V82M493 81.5H499M493.5 81V88M498.5 81V88M497 87.5H501M511.5 74V79M505 78.5H515M505.5 78V88M507.5 79V88M514.5 78V88M512 87.5H518M535.5 58V68M520 67.5H551M520.5 67V88M550.5 67V69M529 68.5H573M529.5 68V76M524 75.5H535M524.5 75V88M534.5 75V79M531 78.5H539M531.5 78V82M528 81.5H533M528.5 81V88M532.5 81V88M538.5 78V82M536 81.5H541M536.5 81V88M540.5 81V88M572.5 68V71M556 70.5H589M556.5 70V79M547 78.5H566M547.5 78V88M544 87.5H556M565.5 78V80M562 79.5H570M562.5 79V88M560 87.5H565M569.5 79V82M567 81.5H572M567.5 81V88M571.5 81V88M588.5 70V76M578 75.5H598M578.5 75V81M575 80.5H585M575.5 80V88M579.5 81V88M584.5 80V88M582 87.5H587M597.5 75V78M592 77.5H602M592.5 77V82M590 81.5H595M590.5 81V88M594.5 81V88M601.5 77V88M599 87.5H611" stroke="#4a4a4a" stroke-width="1" fill="none"/><path d="M81 169.5H110M81 192.5H110M77 216.5H110M71 239.5H110M66 262.5H110M56 286.5H110M77 309.5H110M77 333.5H110M81.5 169V193M77 181.5H82M77.5 181V217M71 198.5H78M71.5 198V240M66 219.5H72M66.5 219V263M56 241.5H67M56.5 241V287M6 263.5H57M77.5 309V334M6 321.5H78M6.5 263V322" stroke="#6a6a6a" stroke-width="1" fill="none"/><rect x="53.8" y="26.3" width="11.4" height="2.6" fill="#0000ff"/><rect x="65.1" y="26.3" width="11.6" height="2.6" fill="#aaaaff"/><rect x="76.6" y="26.3" width="11.4" height="2.6" fill="#ffaaaa"/><rect x="87.9" y="26.3" width="6.0" height="2.6" fill="#ff0000"/><path d="M54.2 28.9V35.1M60.9 28.9V35.1M67.6 28.9V35.1M74.5 28.9V35.1M80.6 28.9V35.1M87.2 28.9V35.1M93.8 28.9V35.1" stroke="#555" stroke-width="1"/><defs><linearGradient id="bwr" x1="0" x2="1" y1="0" y2="0"><stop offset="0" stop-color="#0000ff"/><stop offset="0.5" stop-color="#ffffff"/><stop offset="1" stop-color="#ff0000"/></linearGradient></defs><rect x="47.1" y="375.1" width="40.1" height="3.0" fill="url(#bwr)"/><path d="M47.4 378.1V384.5M57.4 378.1V384.5M67.4 378.1V384.5M77.1 378.1V384.5M87.2 378.1V384.5" stroke="#555" stroke-width="1"/><rect x="905.6" y="190.8" width="16.6" height="13.6" fill="#7fff00" stroke="#8a8a8a" stroke-width="0.8"/><rect x="905.6" y="218.1" width="16.6" height="13.6" fill="#ffff00" stroke="#8a8a8a" stroke-width="0.8"/><rect x="905.6" y="245.4" width="16.6" height="13.6" fill="#ff0000" stroke="#8a8a8a" stroke-width="0.8"/><rect x="905.6" y="272.7" width="16.6" height="13.6" fill="#7fffd4" stroke="#8a8a8a" stroke-width="0.8"/><rect x="905.6" y="300.0" width="16.6" height="13.6" fill="#0000ff" stroke="#8a8a8a" stroke-width="0.8"/><rect x="905.6" y="327.3" width="16.6" height="13.6" fill="#bebebe" stroke="#8a8a8a" stroke-width="0.8"/><rect x="905.6" y="386.9" width="16.6" height="13.6" fill="#7fff00" stroke="#8a8a8a" stroke-width="0.8"/><rect x="905.6" y="414.3" width="16.6" height="13.6" fill="#ffff00" stroke="#8a8a8a" stroke-width="0.8"/><rect x="905.6" y="441.7" width="16.6" height="13.6" fill="#ff0000" stroke="#8a8a8a" stroke-width="0.8"/><rect x="905.6" y="469.1" width="16.6" height="13.6" fill="#7fffd4" stroke="#8a8a8a" stroke-width="0.8"/><rect x="905.6" y="496.5" width="16.6" height="13.6" fill="#000080" stroke="#8a8a8a" stroke-width="0.8"/><rect x="905.6" y="523.9" width="16.6" height="13.6" fill="#0000ff" stroke="#8a8a8a" stroke-width="0.8"/><rect x="905.6" y="551.3" width="16.6" height="13.6" fill="#ff8c00" stroke="#8a8a8a" stroke-width="0.8"/><rect x="905.6" y="578.7" width="16.6" height="13.6" fill="#ff69b4" stroke="#8a8a8a" stroke-width="0.8"/><rect x="905.6" y="606.1" width="16.6" height="13.6" fill="#556b2f" stroke="#8a8a8a" stroke-width="0.8"/><rect x="905.6" y="633.5" width="16.6" height="13.6" fill="#000000" stroke="#8a8a8a" stroke-width="0.8"/><g font-family="Liberation Sans, sans-serif" fill="#111111"><text x="943.6" y="206.0" font-size="22.5" textLength="134.2" lengthAdjust="spacingAndGlyphs">urothelial-like</text><text x="943.6" y="233.3" font-size="22.5" textLength="80.1" lengthAdjust="spacingAndGlyphs">nontype</text><text x="943.6" y="260.6" font-size="22.5" textLength="167.4" lengthAdjust="spacingAndGlyphs">basal-squamous</text><text x="943.6" y="287.9" font-size="22.5" textLength="214.5" lengthAdjust="spacingAndGlyphs">genomically-unstable</text><text x="943.6" y="315.2" font-size="22.5" textLength="140.2" lengthAdjust="spacingAndGlyphs">mesenchymal</text><text x="943.6" y="342.5" font-size="22.5" textLength="133.9" lengthAdjust="spacingAndGlyphs">Not available</text><text x="943.6" y="401.9" font-size="22.5" textLength="36.0" lengthAdjust="spacingAndGlyphs">CIS</text><text x="943.6" y="429.3" font-size="22.5" textLength="224.6" lengthAdjust="spacingAndGlyphs">Non invasive papillary</text><text x="943.6" y="456.7" font-size="22.5" textLength="348.0" lengthAdjust="spacingAndGlyphs">invasive squamous cell carcinoma</text><text x="943.6" y="484.1" font-size="22.5" textLength="435.8" lengthAdjust="spacingAndGlyphs">invasive urothelial carcinoma, conventional</text><text x="943.6" y="511.5" font-size="22.5" textLength="401.9" lengthAdjust="spacingAndGlyphs">invasive urothelial carcinoma, glandular</text><text x="943.6" y="538.9" font-size="22.5" textLength="449.3" lengthAdjust="spacingAndGlyphs">invasive urothelial carcinoma, micropapillary</text><text x="943.6" y="566.3" font-size="22.5" textLength="375.8" lengthAdjust="spacingAndGlyphs">invasive urothelial carcinoma, nested</text><text x="943.6" y="593.7" font-size="22.5" textLength="440.6" lengthAdjust="spacingAndGlyphs">invasive urothelial carcinoma, plasmacytoid</text><text x="943.6" y="621.1" font-size="22.5" textLength="432.3" lengthAdjust="spacingAndGlyphs">invasive urothelial carcinoma, sarcomatoid</text><text x="943.6" y="648.5" font-size="22.5" textLength="295.8" lengthAdjust="spacingAndGlyphs">invasive small cell carcinoma</text><text x="838.6" y="179.2" font-size="18" textLength="166.6" lengthAdjust="spacingAndGlyphs">Molecular subtype</text><text x="839.3" y="376.1" font-size="18" textLength="183.6" lengthAdjust="spacingAndGlyphs">Histological subtype</text><text x="618.2" y="177.0" font-size="17.9">CD3</text><text x="618.2" y="200.3" font-size="17.9">CD8</text><text x="618.2" y="223.7" font-size="17.9">CD3_stromal</text><text x="618.2" y="247.0" font-size="17.9">CD3_tumor</text><text x="618.2" y="293.7" font-size="17.9">PDL1</text><text x="618.2" y="317.1" font-size="17.9">PD1</text><text x="618.2" y="340.4" font-size="17.9">CD68</text><text x="617.2" y="270.0" font-size="16.6" font-weight="bold" textLength="174.6" lengthAdjust="spacingAndGlyphs">Chronic Inflammation</text><text x="619.3" y="378.1" font-size="17.6">ck5</text><text x="619.3" y="409.0" font-size="17.6">ck14</text><text x="619.3" y="439.9" font-size="17.6">fgfr3</text><text x="619.3" y="470.8" font-size="17.6">tubb2b</text><text x="619.3" y="501.7" font-size="17.6">zeb2</text><text x="619.3" y="532.6" font-size="17.6">ccnd1</text><text x="619.3" y="563.5" font-size="17.6">vimentin</text><text x="619.3" y="594.3" font-size="17.6">foxa1</text><text x="619.3" y="625.2" font-size="17.6">gata3</text><text x="619.3" y="656.1" font-size="17.6">p16</text><text x="619.3" y="687.0" font-size="17.6">ecad</text><text x="619.3" y="717.9" font-size="17.6">moc31</text><text x="619.3" y="748.8" font-size="17.6">rb1</text><text x="3.1" y="119.7" font-size="19.9" textLength="107.4" lengthAdjust="spacingAndGlyphs">Mol.subtype</text><text x="2.5" y="142.8" font-size="19.9" textLength="108.0" lengthAdjust="spacingAndGlyphs">Hist.subtype</text><text x="44.3" y="18.9" font-size="12.4" font-weight="bold" textLength="59.5" lengthAdjust="spacingAndGlyphs">Color Key</text><text x="53.6" y="51.3" font-size="10.6" text-anchor="middle">0</text><text x="73.8" y="51.3" font-size="10.6" text-anchor="middle">1.5</text><text x="93.5" y="51.3" font-size="10.6" text-anchor="middle">3</text><text x="56.3" y="64.2" font-size="13.8" textLength="35.0" lengthAdjust="spacingAndGlyphs">Value</text><text x="37.7" y="368.7" font-size="12.6" font-weight="bold" textLength="59.5" lengthAdjust="spacingAndGlyphs">Color Key</text><text x="46.5" y="400.6" font-size="10.6" text-anchor="middle">-2</text><text x="67.0" y="400.6" font-size="10.6" text-anchor="middle">0</text><text x="86.5" y="400.6" font-size="10.6" text-anchor="middle">2</text><text x="30.0" y="413.8" font-size="14.2" textLength="78.0" lengthAdjust="spacingAndGlyphs">Row Z-Score</text></g></svg></body></html>
